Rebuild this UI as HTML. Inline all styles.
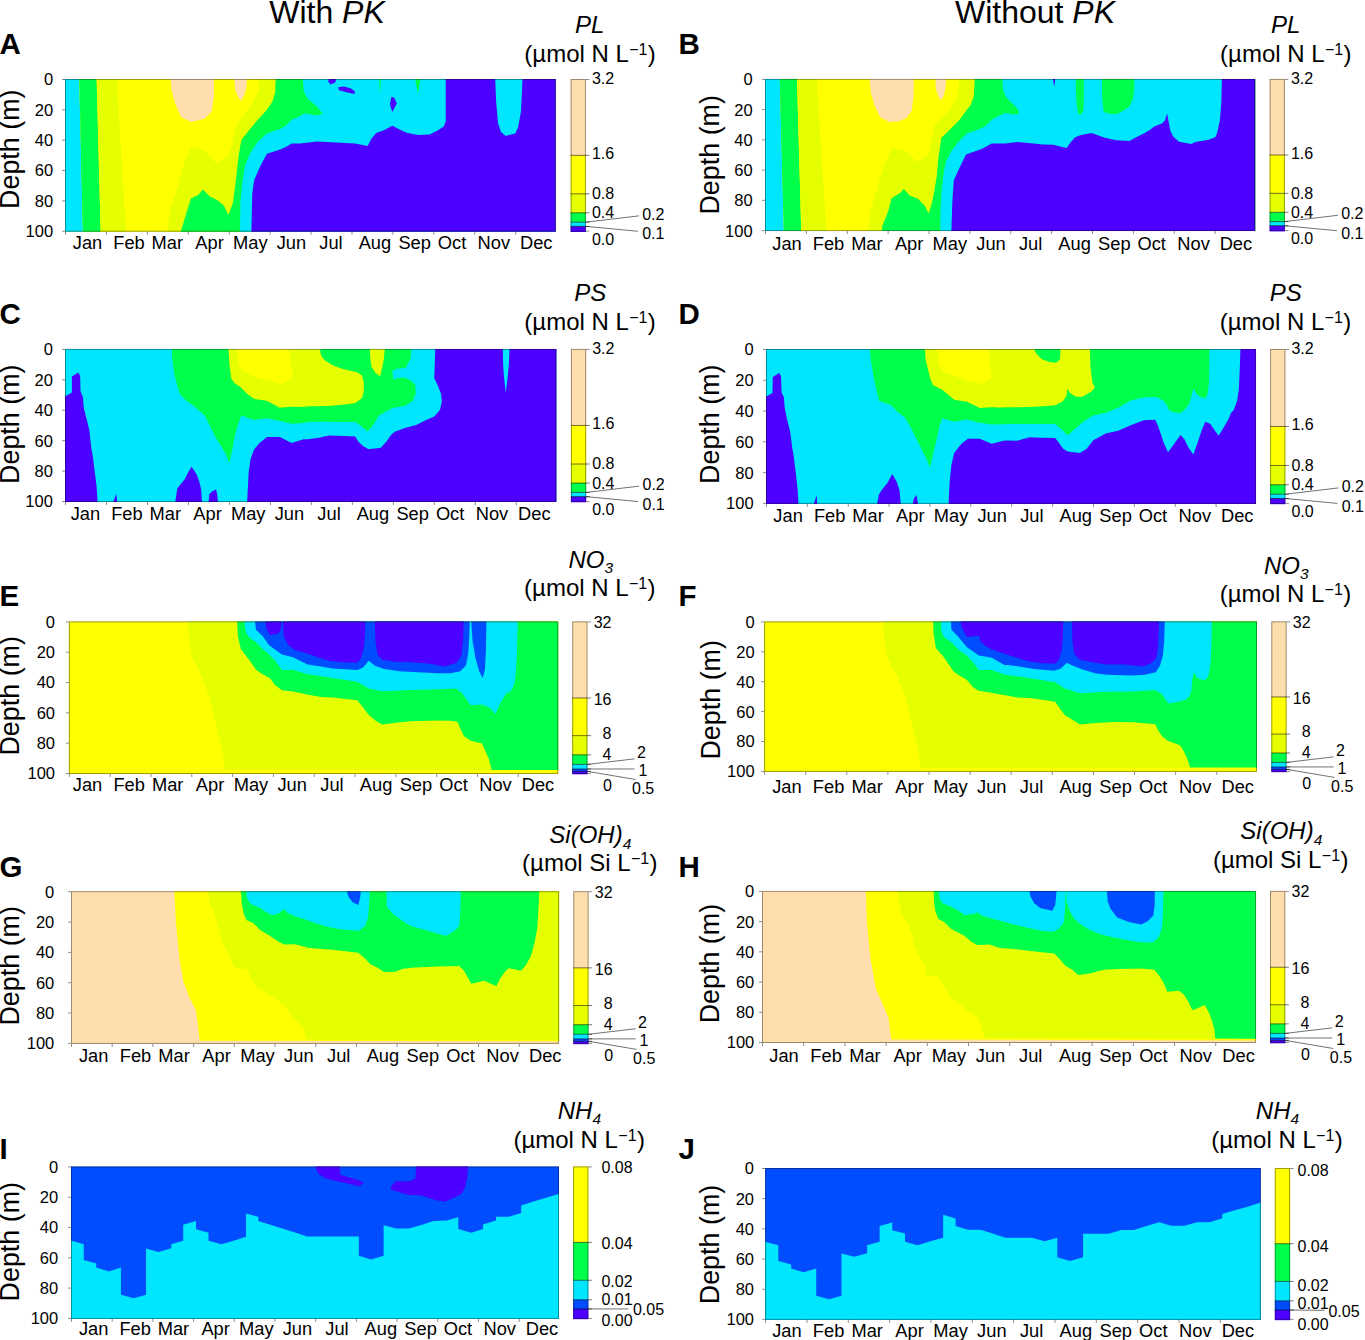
<!DOCTYPE html>
<html><head><meta charset="utf-8"><style>
html,body{margin:0;padding:0;background:#fff;width:1365px;height:1340px;overflow:hidden;}
svg{display:block;font-family:"Liberation Sans", sans-serif;}
</style></head><body>
<svg width="1365" height="1340" viewBox="0 0 1365 1340" font-family="Liberation Sans, sans-serif" fill="#000">
<rect width="1365" height="1340" fill="#fff"/>
<text x="327" y="22.7" font-size="32" text-anchor="middle">With <tspan font-style="italic">PK</tspan></text>
<text x="1035" y="22.7" font-size="32" text-anchor="middle">Without <tspan font-style="italic">PK</tspan></text>
<clipPath id="clipA"><rect x="65" y="79" width="490.8" height="152.7"/></clipPath>
<g clip-path="url(#clipA)">
<polygon fill="#FFFF00" points="60,70 560,70 560,240 60,240"/>
<polygon fill="#00E6FF" points="60,70 79.1,74 83.08,238.84 60,240"/>
<polygon fill="#00FF4A" points="79.1,74 96.5,74 100.86,238.84 83.08,238.84"/>
<polygon fill="#E6FF00" points="96.5,74 116.47,74 126.39,238.84 100.86,238.84"/>
<polygon fill="#FFDEAD" points="170.81,74 170.81,79.13 171.36,88.65 174.47,101.47 180.88,117.04 190.95,121.99 204.69,118.87 211.65,111.55 213.85,97.81 213.85,79.13 213.85,74"/>
<polygon fill="#FFDEAD" points="234.36,74 234.36,79.13 235.46,90.48 238.57,97.81 241.32,101.11 244.62,94.15 246.81,84.99 246.81,79.13 246.81,74"/>
<polygon fill="#E6FF00" points="259.63,74 259.63,79.13 258.72,90.48 252.31,103.3 243.15,116.12 236.74,123.45 233.99,134.44 231.25,147.26 228.5,155.5 216.59,163.19 204.69,150.92 190.95,147.26 184.54,161.91 177.22,187.55 169.89,209.53 167.14,231.14 166.78,238.84 560,240 560,70"/>
<polygon fill="#00FF4A" points="275.75,74 275.75,79.13 275.2,92.32 272.45,101.47 266.04,110.63 257.8,119.79 248.64,130.78 241.32,139.93 238.57,156.42 235.82,180.23 233.08,202.21 228.5,215.03 223.92,205.87 217.51,200.37 210.18,196.71 202.86,189.38 198.28,194.88 190.95,198.54 186.37,213.19 180.88,231.14 179.96,238.84 560,240 560,70"/>
<polygon fill="#00E6FF" points="240.04,238.84 240.04,231.14 240.4,202.21 242.23,183.89 244.98,165.58 250.48,152.75 257.8,141.77 266.96,133.52 279.78,128.95 285.27,126.2 291.68,119.79 298.1,117.04 304.51,113.38 305.71,113.62 316.19,115.52 322.86,114 317.14,106.38 307.62,98.76 303.81,91.14 302.86,79.33 302.86,74 560,70 560,240"/>
<polygon fill="#4C00FF" points="251.39,238.84 251.39,231.14 252.31,193.05 254.14,180.23 260.55,165.58 266.96,153.67 281.61,149.09 287.11,146.34 291.68,143.6 300,143.52 317.14,141.62 355.24,143.52 367.62,146 371.43,138.76 376.19,133.05 383.81,130.19 392.38,125.81 399.05,129.24 406.67,132.67 418.1,134.95 429.52,134.57 437.14,130.76 443.81,126.38 445.71,121.62 445.71,79.33 445.71,74 495.24,74 495.24,79.33 496.19,102.57 498.1,123.52 500.95,132.1 505.71,135.9 515.24,133.43 518.1,127.33 520.95,112.1 521.9,93.05 522.48,79.33 522.48,74 560,70 560,240"/>
<polygon fill="#4C00FF" points="328.57,74 328.57,79.33 328.19,81.62 330.48,84.48 335.24,82.57 336.19,79.33 336.19,74"/>
<polygon fill="#4C00FF" points="338.1,87.33 343.81,86.38 350.48,88.29 354.86,91.14 354.29,94 345.71,92.1 339.05,90.19"/>
<polygon fill="#4C00FF" points="391.43,96.86 394.29,97.81 396.76,103.52 392.38,112.1 389.9,104.48"/>
<polygon fill="#00FF4A" points="379.05,74 379.05,79.33 379.62,89.24 380,94.95 380.38,89.24 380.76,79.33 380.76,74"/>
<polygon fill="#00FF4A" points="415.24,74 415.24,79.33 416.57,87.33 417.71,93.05 419.05,87.33 420.38,79.33 420.38,74"/>
</g>
<rect x="65.5" y="79.5" width="489.8" height="151.7" fill="none" stroke="#000" stroke-opacity="0.38" stroke-width="1"/>
<line x1="62" y1="79.5" x2="65" y2="79.5" stroke="#000" stroke-opacity="0.45" stroke-width="1"/>
<text x="53.1" y="85.4" font-size="16.5" text-anchor="end">0</text>
<line x1="62" y1="109.84" x2="65" y2="109.84" stroke="#000" stroke-opacity="0.45" stroke-width="1"/>
<text x="53.1" y="115.74" font-size="16.5" text-anchor="end">20</text>
<line x1="62" y1="140.18" x2="65" y2="140.18" stroke="#000" stroke-opacity="0.45" stroke-width="1"/>
<text x="53.1" y="146.08" font-size="16.5" text-anchor="end">40</text>
<line x1="62" y1="170.52" x2="65" y2="170.52" stroke="#000" stroke-opacity="0.45" stroke-width="1"/>
<text x="53.1" y="176.42" font-size="16.5" text-anchor="end">60</text>
<line x1="62" y1="200.86" x2="65" y2="200.86" stroke="#000" stroke-opacity="0.45" stroke-width="1"/>
<text x="53.1" y="206.76" font-size="16.5" text-anchor="end">80</text>
<line x1="62" y1="231.2" x2="65" y2="231.2" stroke="#000" stroke-opacity="0.45" stroke-width="1"/>
<text x="53.1" y="237.1" font-size="16.5" text-anchor="end">100</text>
<line x1="65.5" y1="231.7" x2="65.5" y2="234.7" stroke="#000" stroke-opacity="0.45" stroke-width="1"/>
<line x1="106.43" y1="231.7" x2="106.43" y2="234.7" stroke="#000" stroke-opacity="0.45" stroke-width="1"/>
<line x1="147.36" y1="231.7" x2="147.36" y2="234.7" stroke="#000" stroke-opacity="0.45" stroke-width="1"/>
<line x1="188.29" y1="231.7" x2="188.29" y2="234.7" stroke="#000" stroke-opacity="0.45" stroke-width="1"/>
<line x1="229.22" y1="231.7" x2="229.22" y2="234.7" stroke="#000" stroke-opacity="0.45" stroke-width="1"/>
<line x1="270.15" y1="231.7" x2="270.15" y2="234.7" stroke="#000" stroke-opacity="0.45" stroke-width="1"/>
<line x1="311.08" y1="231.7" x2="311.08" y2="234.7" stroke="#000" stroke-opacity="0.45" stroke-width="1"/>
<line x1="352" y1="231.7" x2="352" y2="234.7" stroke="#000" stroke-opacity="0.45" stroke-width="1"/>
<line x1="392.93" y1="231.7" x2="392.93" y2="234.7" stroke="#000" stroke-opacity="0.45" stroke-width="1"/>
<line x1="433.86" y1="231.7" x2="433.86" y2="234.7" stroke="#000" stroke-opacity="0.45" stroke-width="1"/>
<line x1="474.79" y1="231.7" x2="474.79" y2="234.7" stroke="#000" stroke-opacity="0.45" stroke-width="1"/>
<line x1="515.72" y1="231.7" x2="515.72" y2="234.7" stroke="#000" stroke-opacity="0.45" stroke-width="1"/>
<text x="87.5" y="249" font-size="18.3" text-anchor="middle">Jan</text>
<text x="129.02" y="249" font-size="18.3" text-anchor="middle">Feb</text>
<text x="167.34" y="249" font-size="18.3" text-anchor="middle">Mar</text>
<text x="209.55" y="249" font-size="18.3" text-anchor="middle">Apr</text>
<text x="250.27" y="249" font-size="18.3" text-anchor="middle">May</text>
<text x="291.39" y="249" font-size="18.3" text-anchor="middle">Jun</text>
<text x="331.01" y="249" font-size="18.3" text-anchor="middle">Jul</text>
<text x="374.93" y="249" font-size="18.3" text-anchor="middle">Aug</text>
<text x="414.65" y="249" font-size="18.3" text-anchor="middle">Sep</text>
<text x="452.07" y="249" font-size="18.3" text-anchor="middle">Oct</text>
<text x="493.88" y="249" font-size="18.3" text-anchor="middle">Nov</text>
<text x="536.2" y="249" font-size="18.3" text-anchor="middle">Dec</text>
<text x="-0.6" y="54" font-size="29.5" font-weight="bold">A</text>
<text transform="translate(19,149.2) rotate(-90)" font-size="26.9" text-anchor="middle">Depth (m)</text>
<text x="589.7" y="32.7" font-size="24" font-style="italic" text-anchor="middle">PL</text>
<text x="590.1" y="61.8" font-size="24" text-anchor="middle">(µmol N L<tspan font-size="16" dy="-7.2" dx="0.3">−1</tspan><tspan dy="7.2" dx="0.4">)</tspan></text>
<rect x="570.6" y="79" width="15.3" height="76.65" fill="#FFDEAD"/>
<rect x="570.6" y="155.35" width="15.3" height="38.78" fill="#FFFF00"/>
<rect x="570.6" y="193.83" width="15.3" height="19.29" fill="#E6FF00"/>
<rect x="570.6" y="212.81" width="15.3" height="9.64" fill="#00FF4A"/>
<rect x="570.6" y="222.16" width="15.3" height="4.52" fill="#00E6FF"/>
<rect x="570.6" y="226.38" width="15.3" height="5.62" fill="#4C00FF"/>
<line x1="570.6" y1="155.35" x2="589.4" y2="155.35" stroke="#000" stroke-opacity="0.6" stroke-width="0.9"/>
<line x1="570.6" y1="193.83" x2="589.4" y2="193.83" stroke="#000" stroke-opacity="0.6" stroke-width="0.9"/>
<line x1="570.6" y1="212.81" x2="589.4" y2="212.81" stroke="#000" stroke-opacity="0.6" stroke-width="0.9"/>
<line x1="570.6" y1="222.16" x2="589.4" y2="222.16" stroke="#000" stroke-opacity="0.6" stroke-width="0.9"/>
<line x1="570.6" y1="226.38" x2="589.4" y2="226.38" stroke="#000" stroke-opacity="0.6" stroke-width="0.9"/>
<rect x="571.1" y="79.5" width="14.3" height="151.7" fill="none" stroke="#000" stroke-opacity="0.38" stroke-width="1"/>
<line x1="585.9" y1="79.5" x2="589.4" y2="79.5" stroke="#000" stroke-opacity="0.45" stroke-width="1"/>
<line x1="585.9" y1="231.2" x2="589.4" y2="231.2" stroke="#000" stroke-opacity="0.45" stroke-width="1"/>
<text x="591.9" y="84.1" font-size="16" text-anchor="start">3.2</text>
<text x="591.9" y="159.35" font-size="16" text-anchor="start">1.6</text>
<text x="591.9" y="199.03" font-size="16" text-anchor="start">0.8</text>
<text x="591.9" y="218.31" font-size="16" text-anchor="start">0.4</text>
<text x="591.9" y="244.8" font-size="16" text-anchor="start">0.0</text>
<line x1="585.9" y1="222.16" x2="638.9" y2="215.86" stroke="#000" stroke-opacity="0.7" stroke-width="0.8"/>
<text x="642.2" y="220.06" font-size="16" text-anchor="start">0.2</text>
<line x1="585.9" y1="226.38" x2="637.9" y2="231.28" stroke="#000" stroke-opacity="0.7" stroke-width="0.8"/>
<text x="642.2" y="239.38" font-size="16" text-anchor="start">0.1</text>
<clipPath id="clipB"><rect x="765" y="78.9" width="490.2" height="152.2"/></clipPath>
<g clip-path="url(#clipB)">
<polygon fill="#FFFF00" points="760,70 1260,70 1260,240 760,240"/>
<polygon fill="#00E6FF" points="760,70 779.65,74 784.03,238.84 760,240"/>
<polygon fill="#00FF4A" points="779.65,74 796.85,74 801.45,238.84 784.03,238.84"/>
<polygon fill="#E6FF00" points="796.85,74 816.45,74 826.81,238.84 801.45,238.84"/>
<polygon fill="#FFDEAD" points="869.52,74 869.52,79.13 870.81,92.32 874.47,105.14 879.96,117.04 889.12,121.99 899.19,121.25 906.52,117.96 911.65,110.63 913.48,97.81 913.85,79.13 913.85,74"/>
<polygon fill="#FFDEAD" points="935.46,74 935.46,79.13 935.82,88.65 938.57,96.89 941.32,100.56 944.07,95.06 945.9,84.99 945.9,79.13 945.9,74"/>
<polygon fill="#E6FF00" points="959.27,74 959.27,79.13 958.72,90.48 955.05,101.47 949.56,110.63 940.4,117.96 934.91,125.28 932.16,134.44 930.33,147.26 928.5,154.59 916.59,161.91 906.52,150.92 891.87,148.18 885.46,161.91 877.22,187.55 869.89,213.19 868.06,230.59 867.69,238.84 1260,240 1260,70"/>
<polygon fill="#00FF4A" points="974.65,74 974.65,79.13 973.92,95.98 970.62,105.14 966.04,110.63 959.63,119.79 950.48,128.95 941.32,138.1 938.57,156.42 936.74,176.56 933.99,193.05 931.25,205.87 928.5,213.19 924.84,205.87 917.51,198.54 909.82,195.79 903.77,189.02 900.11,193.05 891.5,198.18 888.21,211.36 882.34,226.01 881.79,230.59 881.43,238.84 1260,240 1260,70"/>
<polygon fill="#00E6FF" points="940.4,238.84 940.4,230.59 940.4,213.19 941.32,193.05 943.15,176.56 945.9,161.91 951.39,150.92 957.8,142.68 966.96,133.52 979.78,128.95 985.27,126.2 991.68,119.79 999.01,115.76 1004.51,113.38 1004.76,112.67 1013.33,114.38 1019.05,114 1018.1,109.24 1013.33,104.48 1005.71,96.86 1002.86,89.24 1002.29,79.33 1002.29,74 1260,70 1260,240"/>
<polygon fill="#4C00FF" points="951.39,238.84 951.39,230.59 952.31,202.21 953.77,180.23 959.63,167.41 966.04,154.59 981.61,149.09 991.68,143.6 1000,143.52 1005.71,143.52 1017.14,142 1028.57,142.95 1042.86,144.48 1053.33,144.86 1060.95,146.76 1066.67,147.9 1070.48,142.57 1075.24,137.24 1080.95,134.95 1091.43,133.05 1097.14,134.95 1104.76,137.81 1116.19,140.29 1129.52,141.05 1135.24,137.81 1144.76,133.05 1150.48,129.62 1154.29,126.38 1161.9,123.52 1164.76,120.67 1167.24,113.62 1168.57,121.62 1170.48,131.14 1173.33,136.86 1179.05,141.81 1191.43,143.9 1195.24,142 1201.9,141.05 1208.57,139.71 1215.24,137.24 1217.14,133.05 1220,119.71 1221.33,102.57 1221.9,79.33 1221.9,74 1260,70 1260,240"/>
<polygon fill="#4C00FF" points="1052.95,74 1052.95,79.33 1053.33,81.62 1054.29,86.38 1055.24,79.33 1055.24,74"/>
<polygon fill="#00FF4A" points="1075.81,74 1075.81,79.33 1075.81,89.24 1076.57,102.57 1078.1,114 1080.95,114.95 1083.43,110.19 1083.81,96.86 1083.81,79.33 1083.81,74"/>
<polygon fill="#00FF4A" points="1101.9,74 1101.9,79.33 1101.9,89.24 1102.48,102.57 1103.81,112.1 1110.48,114 1117.14,114 1123.81,110.19 1129.52,106.38 1132.95,98.76 1134.29,89.24 1134.29,79.33 1134.29,74"/>
</g>
<rect x="765.5" y="79.4" width="489.2" height="151.2" fill="none" stroke="#000" stroke-opacity="0.38" stroke-width="1"/>
<line x1="762" y1="79.4" x2="765" y2="79.4" stroke="#000" stroke-opacity="0.45" stroke-width="1"/>
<text x="752.6" y="85.3" font-size="16.5" text-anchor="end">0</text>
<line x1="762" y1="109.64" x2="765" y2="109.64" stroke="#000" stroke-opacity="0.45" stroke-width="1"/>
<text x="752.6" y="115.54" font-size="16.5" text-anchor="end">20</text>
<line x1="762" y1="139.88" x2="765" y2="139.88" stroke="#000" stroke-opacity="0.45" stroke-width="1"/>
<text x="752.6" y="145.78" font-size="16.5" text-anchor="end">40</text>
<line x1="762" y1="170.12" x2="765" y2="170.12" stroke="#000" stroke-opacity="0.45" stroke-width="1"/>
<text x="752.6" y="176.02" font-size="16.5" text-anchor="end">60</text>
<line x1="762" y1="200.36" x2="765" y2="200.36" stroke="#000" stroke-opacity="0.45" stroke-width="1"/>
<text x="752.6" y="206.26" font-size="16.5" text-anchor="end">80</text>
<line x1="762" y1="230.6" x2="765" y2="230.6" stroke="#000" stroke-opacity="0.45" stroke-width="1"/>
<text x="752.6" y="236.5" font-size="16.5" text-anchor="end">100</text>
<line x1="765.5" y1="231.1" x2="765.5" y2="234.1" stroke="#000" stroke-opacity="0.45" stroke-width="1"/>
<line x1="806.38" y1="231.1" x2="806.38" y2="234.1" stroke="#000" stroke-opacity="0.45" stroke-width="1"/>
<line x1="847.26" y1="231.1" x2="847.26" y2="234.1" stroke="#000" stroke-opacity="0.45" stroke-width="1"/>
<line x1="888.14" y1="231.1" x2="888.14" y2="234.1" stroke="#000" stroke-opacity="0.45" stroke-width="1"/>
<line x1="929.02" y1="231.1" x2="929.02" y2="234.1" stroke="#000" stroke-opacity="0.45" stroke-width="1"/>
<line x1="969.9" y1="231.1" x2="969.9" y2="234.1" stroke="#000" stroke-opacity="0.45" stroke-width="1"/>
<line x1="1010.77" y1="231.1" x2="1010.77" y2="234.1" stroke="#000" stroke-opacity="0.45" stroke-width="1"/>
<line x1="1051.65" y1="231.1" x2="1051.65" y2="234.1" stroke="#000" stroke-opacity="0.45" stroke-width="1"/>
<line x1="1092.53" y1="231.1" x2="1092.53" y2="234.1" stroke="#000" stroke-opacity="0.45" stroke-width="1"/>
<line x1="1133.41" y1="231.1" x2="1133.41" y2="234.1" stroke="#000" stroke-opacity="0.45" stroke-width="1"/>
<line x1="1174.29" y1="231.1" x2="1174.29" y2="234.1" stroke="#000" stroke-opacity="0.45" stroke-width="1"/>
<line x1="1215.17" y1="231.1" x2="1215.17" y2="234.1" stroke="#000" stroke-opacity="0.45" stroke-width="1"/>
<text x="787" y="249.6" font-size="18.3" text-anchor="middle">Jan</text>
<text x="828.53" y="249.6" font-size="18.3" text-anchor="middle">Feb</text>
<text x="866.87" y="249.6" font-size="18.3" text-anchor="middle">Mar</text>
<text x="909.11" y="249.6" font-size="18.3" text-anchor="middle">Apr</text>
<text x="949.84" y="249.6" font-size="18.3" text-anchor="middle">May</text>
<text x="990.98" y="249.6" font-size="18.3" text-anchor="middle">Jun</text>
<text x="1030.62" y="249.6" font-size="18.3" text-anchor="middle">Jul</text>
<text x="1074.55" y="249.6" font-size="18.3" text-anchor="middle">Aug</text>
<text x="1114.29" y="249.6" font-size="18.3" text-anchor="middle">Sep</text>
<text x="1151.73" y="249.6" font-size="18.3" text-anchor="middle">Oct</text>
<text x="1193.57" y="249.6" font-size="18.3" text-anchor="middle">Nov</text>
<text x="1235.9" y="249.6" font-size="18.3" text-anchor="middle">Dec</text>
<text x="678.6" y="54" font-size="29.5" font-weight="bold">B</text>
<text transform="translate(719.1,154.8) rotate(-90)" font-size="26.9" text-anchor="middle">Depth (m)</text>
<text x="1285.8" y="32.7" font-size="24" font-style="italic" text-anchor="middle">PL</text>
<text x="1285.8" y="61.8" font-size="24" text-anchor="middle">(µmol N L<tspan font-size="16" dy="-7.2" dx="0.3">−1</tspan><tspan dy="7.2" dx="0.4">)</tspan></text>
<rect x="1269.6" y="78.9" width="15.3" height="76.4" fill="#FFDEAD"/>
<rect x="1269.6" y="155" width="15.3" height="38.65" fill="#FFFF00"/>
<rect x="1269.6" y="193.35" width="15.3" height="19.22" fill="#E6FF00"/>
<rect x="1269.6" y="212.28" width="15.3" height="9.61" fill="#00FF4A"/>
<rect x="1269.6" y="221.59" width="15.3" height="4.51" fill="#00E6FF"/>
<rect x="1269.6" y="225.79" width="15.3" height="5.61" fill="#4C00FF"/>
<line x1="1269.6" y1="155" x2="1288.4" y2="155" stroke="#000" stroke-opacity="0.6" stroke-width="0.9"/>
<line x1="1269.6" y1="193.35" x2="1288.4" y2="193.35" stroke="#000" stroke-opacity="0.6" stroke-width="0.9"/>
<line x1="1269.6" y1="212.28" x2="1288.4" y2="212.28" stroke="#000" stroke-opacity="0.6" stroke-width="0.9"/>
<line x1="1269.6" y1="221.59" x2="1288.4" y2="221.59" stroke="#000" stroke-opacity="0.6" stroke-width="0.9"/>
<line x1="1269.6" y1="225.79" x2="1288.4" y2="225.79" stroke="#000" stroke-opacity="0.6" stroke-width="0.9"/>
<rect x="1270.1" y="79.4" width="14.3" height="151.2" fill="none" stroke="#000" stroke-opacity="0.38" stroke-width="1"/>
<line x1="1284.9" y1="79.4" x2="1288.4" y2="79.4" stroke="#000" stroke-opacity="0.45" stroke-width="1"/>
<line x1="1284.9" y1="230.6" x2="1288.4" y2="230.6" stroke="#000" stroke-opacity="0.45" stroke-width="1"/>
<text x="1290.9" y="84" font-size="16" text-anchor="start">3.2</text>
<text x="1290.9" y="159" font-size="16" text-anchor="start">1.6</text>
<text x="1290.9" y="198.55" font-size="16" text-anchor="start">0.8</text>
<text x="1290.9" y="217.78" font-size="16" text-anchor="start">0.4</text>
<text x="1290.9" y="244.2" font-size="16" text-anchor="start">0.0</text>
<line x1="1284.9" y1="221.59" x2="1337.9" y2="215.29" stroke="#000" stroke-opacity="0.7" stroke-width="0.8"/>
<text x="1341.2" y="219.49" font-size="16" text-anchor="start">0.2</text>
<line x1="1284.9" y1="225.79" x2="1336.9" y2="230.69" stroke="#000" stroke-opacity="0.7" stroke-width="0.8"/>
<text x="1341.2" y="238.79" font-size="16" text-anchor="start">0.1</text>
<clipPath id="clipC"><rect x="65" y="348.9" width="491.4" height="153.1"/></clipPath>
<g clip-path="url(#clipC)">
<polygon fill="#00E6FF" points="60,340 565,340 565,510 60,510"/>
<polygon fill="#4C00FF" points="60,396.2 65.49,396.2 71.9,392.53 71.9,376.6 78.32,372.39 80.15,376.05 80.51,391.62 82.89,397.11 83.81,408.1 86.56,419.09 89.3,430.08 91.14,446.56 92.97,457.55 94.8,472.21 96.63,486.86 97.55,501.14 97.73,508.84 60,508.84"/>
<polygon fill="#4C00FF" points="113.11,508.84 113.48,501.14 114.95,497.85 115.86,493.82 116.78,497.85 117.14,501.14 117.33,508.84"/>
<polygon fill="#4C00FF" points="175.02,508.84 175.38,501.14 177.22,488.69 179.96,485.03 184.54,479.53 188.21,472.21 191.5,466.71 196.45,474.04 199.19,481.36 201.03,488.69 201.94,501.14 202.12,508.84"/>
<polygon fill="#4C00FF" points="208.53,508.84 208.72,501.14 209.27,494.18 212.01,491.44 216.04,489.6 217.14,494.18 217.88,501.14 218.06,508.84"/>
<polygon fill="#00FF4A" points="171.72,344 171.72,349.13 172.09,358.65 174.47,375.14 177.22,386.12 179.96,394.37 186.37,400.78 191.87,404.44 199.19,410.85 204.69,415.43 210.18,426.42 215.68,437.41 221.17,446.56 225.75,453.89 229.41,463.05 232.16,450.23 234.91,435.58 238.57,422.75 241.32,415.43 248.64,418.18 254.14,420.01 266.96,418.18 279.78,420.92 291.68,423.67 310,422.75 300,422.1 319.05,421.71 355.24,422.1 360.95,425.9 367.62,431.62 372.38,425.9 379.05,415.43 385.71,411.62 393.33,407.81 404.76,405.9 412.38,401.14 415.81,393.52 415.24,384.95 410.48,380.19 403.81,377.33 393.33,379.24 392.38,370.67 397.14,368.76 405.71,367.81 410.48,359.24 411.43,349.33 411.43,344"/>
<polygon fill="#E6FF00" points="228.5,344 228.5,349.13 229.41,364.15 231.25,378.8 234.91,383.38 240.4,387.04 246.81,393.45 254.14,398.95 266.96,400.78 279.78,407.74 291.68,406.64 310,407.19 300,406.48 328.57,405.9 345.71,404.57 355.24,403.05 361.9,398.29 363.81,391.62 363.81,382.1 361.9,375.43 357.14,372.19 341.9,368.76 332.38,364.95 324.76,360.19 320.95,355.43 320,349.33 320,344"/>
<polygon fill="#FFFF00" points="237.66,344 237.66,349.13 238.57,364.15 243.15,371.47 252.31,376.05 261.47,378.8 279.78,383.93 290.77,379.71 292.97,374.22 291.14,364.15 288.94,349.13 288.94,344"/>
<polygon fill="#E6FF00" points="370.1,344 370.1,349.33 370.1,355.43 371.43,366.86 375.24,372.57 380,376.38 381.9,368.76 383.81,359.24 384.76,349.33 384.76,344"/>
<polygon fill="#4C00FF" points="247.18,508.84 247.18,501.14 248.64,472.21 250.48,459.38 254.14,449.31 259.63,442.9 266.96,437.04 279.78,437.04 291.68,442.9 303.59,439.24 310,439.24 300,440.19 311.43,438.86 319.05,437.71 328.57,435.43 343.81,436 355.24,436.38 358.1,441.14 362.86,445.9 368.57,449.14 380.95,447.81 386.67,441.14 391.43,434.48 395.24,431.62 405.71,427.81 416.19,424.95 425.71,420.19 434.29,416.38 440,409.71 441.9,401.14 440.95,393.52 437.14,384 434.29,378.29 435.24,349.33 435.24,344 565,340 565,510"/>
<polygon fill="#00E6FF" points="502.86,344 502.86,349.33 503.05,363.05 503.81,374.48 504.76,384 505.71,392.57 506.86,384 508,374.48 508.95,363.05 509.52,349.33 509.52,344"/>
</g>
<rect x="65.5" y="349.4" width="490.4" height="152.1" fill="none" stroke="#000" stroke-opacity="0.38" stroke-width="1"/>
<line x1="62" y1="349.4" x2="65" y2="349.4" stroke="#000" stroke-opacity="0.45" stroke-width="1"/>
<text x="52.9" y="355.3" font-size="16.5" text-anchor="end">0</text>
<line x1="62" y1="379.82" x2="65" y2="379.82" stroke="#000" stroke-opacity="0.45" stroke-width="1"/>
<text x="52.9" y="385.72" font-size="16.5" text-anchor="end">20</text>
<line x1="62" y1="410.24" x2="65" y2="410.24" stroke="#000" stroke-opacity="0.45" stroke-width="1"/>
<text x="52.9" y="416.14" font-size="16.5" text-anchor="end">40</text>
<line x1="62" y1="440.66" x2="65" y2="440.66" stroke="#000" stroke-opacity="0.45" stroke-width="1"/>
<text x="52.9" y="446.56" font-size="16.5" text-anchor="end">60</text>
<line x1="62" y1="471.08" x2="65" y2="471.08" stroke="#000" stroke-opacity="0.45" stroke-width="1"/>
<text x="52.9" y="476.98" font-size="16.5" text-anchor="end">80</text>
<line x1="62" y1="501.5" x2="65" y2="501.5" stroke="#000" stroke-opacity="0.45" stroke-width="1"/>
<text x="52.9" y="507.4" font-size="16.5" text-anchor="end">100</text>
<line x1="65.5" y1="502" x2="65.5" y2="505" stroke="#000" stroke-opacity="0.45" stroke-width="1"/>
<line x1="106.48" y1="502" x2="106.48" y2="505" stroke="#000" stroke-opacity="0.45" stroke-width="1"/>
<line x1="147.46" y1="502" x2="147.46" y2="505" stroke="#000" stroke-opacity="0.45" stroke-width="1"/>
<line x1="188.44" y1="502" x2="188.44" y2="505" stroke="#000" stroke-opacity="0.45" stroke-width="1"/>
<line x1="229.42" y1="502" x2="229.42" y2="505" stroke="#000" stroke-opacity="0.45" stroke-width="1"/>
<line x1="270.4" y1="502" x2="270.4" y2="505" stroke="#000" stroke-opacity="0.45" stroke-width="1"/>
<line x1="311.38" y1="502" x2="311.38" y2="505" stroke="#000" stroke-opacity="0.45" stroke-width="1"/>
<line x1="352.36" y1="502" x2="352.36" y2="505" stroke="#000" stroke-opacity="0.45" stroke-width="1"/>
<line x1="393.33" y1="502" x2="393.33" y2="505" stroke="#000" stroke-opacity="0.45" stroke-width="1"/>
<line x1="434.31" y1="502" x2="434.31" y2="505" stroke="#000" stroke-opacity="0.45" stroke-width="1"/>
<line x1="475.29" y1="502" x2="475.29" y2="505" stroke="#000" stroke-opacity="0.45" stroke-width="1"/>
<line x1="516.27" y1="502" x2="516.27" y2="505" stroke="#000" stroke-opacity="0.45" stroke-width="1"/>
<text x="85.4" y="519.9" font-size="18.3" text-anchor="middle">Jan</text>
<text x="126.93" y="519.9" font-size="18.3" text-anchor="middle">Feb</text>
<text x="165.27" y="519.9" font-size="18.3" text-anchor="middle">Mar</text>
<text x="207.51" y="519.9" font-size="18.3" text-anchor="middle">Apr</text>
<text x="248.24" y="519.9" font-size="18.3" text-anchor="middle">May</text>
<text x="289.38" y="519.9" font-size="18.3" text-anchor="middle">Jun</text>
<text x="329.02" y="519.9" font-size="18.3" text-anchor="middle">Jul</text>
<text x="372.95" y="519.9" font-size="18.3" text-anchor="middle">Aug</text>
<text x="412.69" y="519.9" font-size="18.3" text-anchor="middle">Sep</text>
<text x="450.13" y="519.9" font-size="18.3" text-anchor="middle">Oct</text>
<text x="491.97" y="519.9" font-size="18.3" text-anchor="middle">Nov</text>
<text x="534.3" y="519.9" font-size="18.3" text-anchor="middle">Dec</text>
<text x="-0.6" y="324" font-size="29.5" font-weight="bold">C</text>
<text transform="translate(19,424.2) rotate(-90)" font-size="26.9" text-anchor="middle">Depth (m)</text>
<text x="590.3" y="301.2" font-size="24" font-style="italic" text-anchor="middle">PS</text>
<text x="590.1" y="330" font-size="24" text-anchor="middle">(µmol N L<tspan font-size="16" dy="-7.2" dx="0.3">−1</tspan><tspan dy="7.2" dx="0.4">)</tspan></text>
<rect x="570.9" y="348.9" width="15.3" height="76.85" fill="#FFDEAD"/>
<rect x="570.9" y="425.45" width="15.3" height="38.88" fill="#FFFF00"/>
<rect x="570.9" y="464.03" width="15.3" height="19.34" fill="#E6FF00"/>
<rect x="570.9" y="483.06" width="15.3" height="9.67" fill="#00FF4A"/>
<rect x="570.9" y="492.43" width="15.3" height="4.53" fill="#00E6FF"/>
<rect x="570.9" y="496.66" width="15.3" height="5.64" fill="#4C00FF"/>
<line x1="570.9" y1="425.45" x2="589.7" y2="425.45" stroke="#000" stroke-opacity="0.6" stroke-width="0.9"/>
<line x1="570.9" y1="464.03" x2="589.7" y2="464.03" stroke="#000" stroke-opacity="0.6" stroke-width="0.9"/>
<line x1="570.9" y1="483.06" x2="589.7" y2="483.06" stroke="#000" stroke-opacity="0.6" stroke-width="0.9"/>
<line x1="570.9" y1="492.43" x2="589.7" y2="492.43" stroke="#000" stroke-opacity="0.6" stroke-width="0.9"/>
<line x1="570.9" y1="496.66" x2="589.7" y2="496.66" stroke="#000" stroke-opacity="0.6" stroke-width="0.9"/>
<rect x="571.4" y="349.4" width="14.3" height="152.1" fill="none" stroke="#000" stroke-opacity="0.38" stroke-width="1"/>
<line x1="586.2" y1="349.4" x2="589.7" y2="349.4" stroke="#000" stroke-opacity="0.45" stroke-width="1"/>
<line x1="586.2" y1="501.5" x2="589.7" y2="501.5" stroke="#000" stroke-opacity="0.45" stroke-width="1"/>
<text x="592.2" y="354" font-size="16" text-anchor="start">3.2</text>
<text x="592.2" y="429.45" font-size="16" text-anchor="start">1.6</text>
<text x="592.2" y="469.23" font-size="16" text-anchor="start">0.8</text>
<text x="592.2" y="488.56" font-size="16" text-anchor="start">0.4</text>
<text x="592.2" y="515.1" font-size="16" text-anchor="start">0.0</text>
<line x1="586.2" y1="492.43" x2="639.2" y2="486.13" stroke="#000" stroke-opacity="0.7" stroke-width="0.8"/>
<text x="642.5" y="490.33" font-size="16" text-anchor="start">0.2</text>
<line x1="586.2" y1="496.66" x2="638.2" y2="501.56" stroke="#000" stroke-opacity="0.7" stroke-width="0.8"/>
<text x="642.5" y="509.66" font-size="16" text-anchor="start">0.1</text>
<clipPath id="clipD"><rect x="766" y="349" width="490.1" height="154.9"/></clipPath>
<g clip-path="url(#clipD)">
<polygon fill="#00E6FF" points="760,340 1265,340 1265,510 760,510"/>
<polygon fill="#4C00FF" points="760,396.2 766.78,396.2 772.45,393.08 772.82,376.97 779.23,372.94 781.06,376.6 781.61,392.53 783.81,397.11 784.73,408.1 787.47,420.92 790.22,431.91 792.05,446.56 793.88,457.55 795.71,472.21 797.55,488.69 798.46,502.97 798.64,512.5 760,512.5"/>
<polygon fill="#4C00FF" points="813.66,512.5 814.03,502.97 815.86,497.85 816.78,495.1 817.14,502.97 817.33,512.5"/>
<polygon fill="#4C00FF" points="876.85,512.5 877.22,502.97 879.05,494.18 882.71,488.69 887.29,483.19 892.23,474.04 896.45,481.36 899.56,490.52 900.66,502.97 900.84,512.5"/>
<polygon fill="#4C00FF" points="912.56,512.5 912.93,502.97 913.85,498.76 916.59,495.1 917.88,502.97 918.06,512.5"/>
<polygon fill="#00FF4A" points="869.89,344 869.89,349.13 870.81,360.48 873.55,376.97 876.3,389.79 879.05,400.78 890.95,405.36 897.36,411.77 904.69,417.26 910.18,426.42 915.68,437.41 923,452.06 926.67,459.38 929.96,467.63 933.08,453.89 936.74,439.24 939.49,426.42 942.23,418.18 947.73,420.01 954.14,421.84 966.96,419.46 979.78,422.75 991.68,424.59 1010,424.22 1000,424 1055.24,424 1060.95,428.76 1067.62,435.43 1076.19,427.81 1083.81,421.14 1093.33,415.43 1106.67,412.57 1118.1,407.81 1131.43,400.19 1144.76,397.33 1156.19,396.95 1162.86,400.19 1166.67,404.57 1168.57,409.71 1174.29,412.57 1180.57,412.95 1185.71,408.76 1189.52,403.05 1193.33,388.76 1197.14,394.48 1200.95,397.33 1205.71,398.29 1207.62,393.52 1209.14,382.1 1209.52,349.33 1209.52,344"/>
<polygon fill="#E6FF00" points="924.84,344 924.84,349.13 925.75,360.48 928.5,371.47 930.33,378.8 933.08,385.21 942.23,389.79 946.81,393.45 954.14,399.86 966.96,401.69 979.78,408.1 991.68,407.19 1010,408.1 1000,407.24 1019.05,407.24 1034.29,406.86 1047.62,405.9 1055.24,405.33 1062.86,401.14 1066.67,395.43 1067.05,388.76 1069.52,392.57 1075.24,396.38 1081.9,396.95 1091.43,391.62 1094.86,387.81 1092.38,382.1 1090.48,366.86 1089.9,349.33 1089.9,344"/>
<polygon fill="#00FF4A" points="1034.29,344 1034.29,349.33 1036.19,353.52 1041.9,359.24 1049.52,362.1 1056.19,362.67 1060,359.24 1060.57,349.33 1060.57,344"/>
<polygon fill="#FFFF00" points="937.29,344 937.29,349.13 938.57,364.15 943.15,371.47 954.14,376.05 965.13,379.71 979.78,383.93 989.85,379.71 991.68,373.3 989.85,364.15 988.94,349.13 988.94,344"/>
<polygon fill="#4C00FF" points="948.64,512.5 948.64,502.97 949.56,483.19 951.39,464.88 954.14,452.97 961.47,443.82 967.88,438.87 979.78,438.87 991.68,443.82 1003.59,440.7 1010,440.7 1000,441.52 1005.71,440.57 1017.14,440.76 1029.52,437.33 1041.9,437.71 1055.24,437.9 1059.05,443.05 1062.86,448.38 1067.62,451.62 1080,452.95 1086.67,448.76 1093.33,440.19 1105.71,433.52 1118.1,430.67 1131.43,424.95 1143.81,420.19 1155.24,419.81 1158.1,425.9 1163.81,443.05 1168,452.19 1173.33,444.95 1180.57,435.05 1184.38,439.24 1188.57,447.81 1193.33,454.48 1198.1,441.14 1201.9,429.71 1205.33,421.71 1210.48,424 1214.29,429.71 1218.67,435.81 1223.81,427.24 1228.57,419.05 1230.86,413.33 1233.71,409.9 1237.14,400.76 1238.86,389.14 1239.62,372.57 1240,363.05 1240.38,349.33 1240.38,344 1265,340 1265,510"/>
</g>
<rect x="766.5" y="349.5" width="489.1" height="153.9" fill="none" stroke="#000" stroke-opacity="0.38" stroke-width="1"/>
<line x1="763" y1="349.5" x2="766" y2="349.5" stroke="#000" stroke-opacity="0.45" stroke-width="1"/>
<text x="753.6" y="355.4" font-size="16.5" text-anchor="end">0</text>
<line x1="763" y1="380.28" x2="766" y2="380.28" stroke="#000" stroke-opacity="0.45" stroke-width="1"/>
<text x="753.6" y="386.18" font-size="16.5" text-anchor="end">20</text>
<line x1="763" y1="411.06" x2="766" y2="411.06" stroke="#000" stroke-opacity="0.45" stroke-width="1"/>
<text x="753.6" y="416.96" font-size="16.5" text-anchor="end">40</text>
<line x1="763" y1="441.84" x2="766" y2="441.84" stroke="#000" stroke-opacity="0.45" stroke-width="1"/>
<text x="753.6" y="447.74" font-size="16.5" text-anchor="end">60</text>
<line x1="763" y1="472.62" x2="766" y2="472.62" stroke="#000" stroke-opacity="0.45" stroke-width="1"/>
<text x="753.6" y="478.52" font-size="16.5" text-anchor="end">80</text>
<line x1="763" y1="503.4" x2="766" y2="503.4" stroke="#000" stroke-opacity="0.45" stroke-width="1"/>
<text x="753.6" y="509.3" font-size="16.5" text-anchor="end">100</text>
<line x1="766.5" y1="503.9" x2="766.5" y2="506.9" stroke="#000" stroke-opacity="0.45" stroke-width="1"/>
<line x1="807.37" y1="503.9" x2="807.37" y2="506.9" stroke="#000" stroke-opacity="0.45" stroke-width="1"/>
<line x1="848.24" y1="503.9" x2="848.24" y2="506.9" stroke="#000" stroke-opacity="0.45" stroke-width="1"/>
<line x1="889.11" y1="503.9" x2="889.11" y2="506.9" stroke="#000" stroke-opacity="0.45" stroke-width="1"/>
<line x1="929.98" y1="503.9" x2="929.98" y2="506.9" stroke="#000" stroke-opacity="0.45" stroke-width="1"/>
<line x1="970.85" y1="503.9" x2="970.85" y2="506.9" stroke="#000" stroke-opacity="0.45" stroke-width="1"/>
<line x1="1011.72" y1="503.9" x2="1011.72" y2="506.9" stroke="#000" stroke-opacity="0.45" stroke-width="1"/>
<line x1="1052.6" y1="503.9" x2="1052.6" y2="506.9" stroke="#000" stroke-opacity="0.45" stroke-width="1"/>
<line x1="1093.47" y1="503.9" x2="1093.47" y2="506.9" stroke="#000" stroke-opacity="0.45" stroke-width="1"/>
<line x1="1134.34" y1="503.9" x2="1134.34" y2="506.9" stroke="#000" stroke-opacity="0.45" stroke-width="1"/>
<line x1="1175.21" y1="503.9" x2="1175.21" y2="506.9" stroke="#000" stroke-opacity="0.45" stroke-width="1"/>
<line x1="1216.08" y1="503.9" x2="1216.08" y2="506.9" stroke="#000" stroke-opacity="0.45" stroke-width="1"/>
<text x="788.1" y="521.8" font-size="18.3" text-anchor="middle">Jan</text>
<text x="829.65" y="521.8" font-size="18.3" text-anchor="middle">Feb</text>
<text x="868.01" y="521.8" font-size="18.3" text-anchor="middle">Mar</text>
<text x="910.26" y="521.8" font-size="18.3" text-anchor="middle">Apr</text>
<text x="951.02" y="521.8" font-size="18.3" text-anchor="middle">May</text>
<text x="992.17" y="521.8" font-size="18.3" text-anchor="middle">Jun</text>
<text x="1031.83" y="521.8" font-size="18.3" text-anchor="middle">Jul</text>
<text x="1075.78" y="521.8" font-size="18.3" text-anchor="middle">Aug</text>
<text x="1115.54" y="521.8" font-size="18.3" text-anchor="middle">Sep</text>
<text x="1152.99" y="521.8" font-size="18.3" text-anchor="middle">Oct</text>
<text x="1194.85" y="521.8" font-size="18.3" text-anchor="middle">Nov</text>
<text x="1237.2" y="521.8" font-size="18.3" text-anchor="middle">Dec</text>
<text x="678.6" y="324" font-size="29.5" font-weight="bold">D</text>
<text transform="translate(719.1,424.2) rotate(-90)" font-size="26.9" text-anchor="middle">Depth (m)</text>
<text x="1285.7" y="301.2" font-size="24" font-style="italic" text-anchor="middle">PS</text>
<text x="1285.5" y="330" font-size="24" text-anchor="middle">(µmol N L<tspan font-size="16" dy="-7.2" dx="0.3">−1</tspan><tspan dy="7.2" dx="0.4">)</tspan></text>
<rect x="1270.1" y="349" width="15.3" height="77.75" fill="#FFDEAD"/>
<rect x="1270.1" y="426.45" width="15.3" height="39.33" fill="#FFFF00"/>
<rect x="1270.1" y="465.48" width="15.3" height="19.56" fill="#E6FF00"/>
<rect x="1270.1" y="484.74" width="15.3" height="9.78" fill="#00FF4A"/>
<rect x="1270.1" y="494.22" width="15.3" height="4.58" fill="#00E6FF"/>
<rect x="1270.1" y="498.5" width="15.3" height="5.7" fill="#4C00FF"/>
<line x1="1270.1" y1="426.45" x2="1288.9" y2="426.45" stroke="#000" stroke-opacity="0.6" stroke-width="0.9"/>
<line x1="1270.1" y1="465.48" x2="1288.9" y2="465.48" stroke="#000" stroke-opacity="0.6" stroke-width="0.9"/>
<line x1="1270.1" y1="484.74" x2="1288.9" y2="484.74" stroke="#000" stroke-opacity="0.6" stroke-width="0.9"/>
<line x1="1270.1" y1="494.22" x2="1288.9" y2="494.22" stroke="#000" stroke-opacity="0.6" stroke-width="0.9"/>
<line x1="1270.1" y1="498.5" x2="1288.9" y2="498.5" stroke="#000" stroke-opacity="0.6" stroke-width="0.9"/>
<rect x="1270.6" y="349.5" width="14.3" height="153.9" fill="none" stroke="#000" stroke-opacity="0.38" stroke-width="1"/>
<line x1="1285.4" y1="349.5" x2="1288.9" y2="349.5" stroke="#000" stroke-opacity="0.45" stroke-width="1"/>
<line x1="1285.4" y1="503.4" x2="1288.9" y2="503.4" stroke="#000" stroke-opacity="0.45" stroke-width="1"/>
<text x="1291.4" y="354.1" font-size="16" text-anchor="start">3.2</text>
<text x="1291.4" y="430.45" font-size="16" text-anchor="start">1.6</text>
<text x="1291.4" y="470.68" font-size="16" text-anchor="start">0.8</text>
<text x="1291.4" y="490.24" font-size="16" text-anchor="start">0.4</text>
<text x="1291.4" y="517" font-size="16" text-anchor="start">0.0</text>
<line x1="1285.4" y1="494.22" x2="1338.4" y2="487.92" stroke="#000" stroke-opacity="0.7" stroke-width="0.8"/>
<text x="1341.7" y="492.12" font-size="16" text-anchor="start">0.2</text>
<line x1="1285.4" y1="498.5" x2="1337.4" y2="503.4" stroke="#000" stroke-opacity="0.7" stroke-width="0.8"/>
<text x="1341.7" y="511.5" font-size="16" text-anchor="start">0.1</text>
<clipPath id="clipE"><rect x="68.9" y="621.4" width="489.3" height="152.6"/></clipPath>
<g clip-path="url(#clipE)">
<polygon fill="#FFFF00" points="60,610 565,610 565,780 60,780"/>
<polygon fill="#E6FF00" points="188.18,616 188.18,621.13 188.54,634.32 190.37,648.97 193.12,659.96 197.7,668.2 203.19,680.1 208.69,694.75 212.35,709.41 216.01,725.89 219.68,740.54 223.34,755.19 225.17,769.85 565,770 565,610"/>
<polygon fill="#00FF4A" points="237.08,616 237.08,621.13 237.99,636.15 240.74,648.97 247.15,657.21 256.31,670.03 261.8,673.69 270.04,678.27 274.62,684.68 281.95,690.18 292.94,691.46 307.59,694.39 314,695.12 304,694.1 321.14,696.95 332.57,697.52 357.33,700.19 363.05,707.43 368.76,715.05 375.43,720.38 382.1,724.57 395.43,722.67 410.67,721.14 437.33,720.38 450.67,720.76 457.33,721.71 460.19,728.38 464,736 470.67,740.76 482.1,743.62 484.95,750.29 488.76,758.86 491.62,769.9 565,770 565,610"/>
<polygon fill="#00E6FF" points="244.4,616 244.4,621.13 245.87,632.48 248.98,637.06 255.39,641.64 262.72,648.97 269.13,654.46 274.62,659.96 281.95,670.03 292.94,669.66 307.59,674.24 314,674.97 304,673.14 313.52,675.05 332.57,677.9 357.33,681.71 368.76,688.38 382.1,691.24 395.43,690.67 410.67,689.9 437.33,689.33 456.38,688.38 462.1,693.14 466.86,699.81 470.67,705.14 482.1,704.57 489.71,707.43 495.43,714.1 500.19,703.62 505.9,694.1 511.62,690.29 514.48,682.67 515.81,673.14 516.95,654.1 517.71,621.33 517.71,616"/>
<polygon fill="#004CFF" points="255.03,616 255.03,621.13 255.94,629.74 262.72,636.15 269.13,645.3 281.95,654.46 292.94,657.21 307.59,664.53 314,665.08 304,662.67 307.81,664.57 321.14,666.48 332.57,668.38 357.33,669.9 363.05,667.43 368.76,660.76 374.48,665.52 384,668.95 399.24,671.24 418.29,672.19 437.33,673.14 450.67,673.14 460.19,671.24 465.9,665.52 468.19,654.1 469.33,635.05 469.71,621.33 469.71,616"/>
<polygon fill="#004CFF" points="471.24,616 471.24,621.33 472.57,640.76 475.43,657.9 479.24,671.24 482.67,677.9 484.95,669.33 485.9,650.29 486.48,621.33 486.48,616"/>
<polygon fill="#4C00FF" points="265.47,616 265.47,621.13 266.38,628.82 270.04,635.23 278.29,633.4 281.03,628.82 281.58,621.13 281.58,616"/>
<polygon fill="#4C00FF" points="282.86,616 282.86,621.13 283.78,636.15 288.36,645.3 294.77,649.88 307.59,653.55 314,654.83 304,652.19 315.43,656.38 328.76,660.76 342.1,662.29 357.33,662.67 361.14,657.9 364,646.48 364.95,635.05 365.33,621.33 365.33,616"/>
<polygon fill="#4C00FF" points="374.86,616 374.86,621.33 375.43,640.76 377.33,654.1 382.1,659.81 395.43,661.71 410.67,662.29 427.81,663.62 444.95,666.48 456.38,662.67 461.14,656 463.05,640.76 463.62,621.33 463.62,616"/>
</g>
<rect x="69.4" y="621.9" width="488.3" height="151.6" fill="none" stroke="#000" stroke-opacity="0.38" stroke-width="1"/>
<line x1="65.9" y1="621.9" x2="68.9" y2="621.9" stroke="#000" stroke-opacity="0.45" stroke-width="1"/>
<text x="55" y="627.8" font-size="16.5" text-anchor="end">0</text>
<line x1="65.9" y1="652.22" x2="68.9" y2="652.22" stroke="#000" stroke-opacity="0.45" stroke-width="1"/>
<text x="55" y="658.12" font-size="16.5" text-anchor="end">20</text>
<line x1="65.9" y1="682.54" x2="68.9" y2="682.54" stroke="#000" stroke-opacity="0.45" stroke-width="1"/>
<text x="55" y="688.44" font-size="16.5" text-anchor="end">40</text>
<line x1="65.9" y1="712.86" x2="68.9" y2="712.86" stroke="#000" stroke-opacity="0.45" stroke-width="1"/>
<text x="55" y="718.76" font-size="16.5" text-anchor="end">60</text>
<line x1="65.9" y1="743.18" x2="68.9" y2="743.18" stroke="#000" stroke-opacity="0.45" stroke-width="1"/>
<text x="55" y="749.08" font-size="16.5" text-anchor="end">80</text>
<line x1="65.9" y1="773.5" x2="68.9" y2="773.5" stroke="#000" stroke-opacity="0.45" stroke-width="1"/>
<text x="55" y="779.4" font-size="16.5" text-anchor="end">100</text>
<line x1="69.4" y1="774" x2="69.4" y2="777" stroke="#000" stroke-opacity="0.45" stroke-width="1"/>
<line x1="110.2" y1="774" x2="110.2" y2="777" stroke="#000" stroke-opacity="0.45" stroke-width="1"/>
<line x1="151.01" y1="774" x2="151.01" y2="777" stroke="#000" stroke-opacity="0.45" stroke-width="1"/>
<line x1="191.81" y1="774" x2="191.81" y2="777" stroke="#000" stroke-opacity="0.45" stroke-width="1"/>
<line x1="232.62" y1="774" x2="232.62" y2="777" stroke="#000" stroke-opacity="0.45" stroke-width="1"/>
<line x1="273.42" y1="774" x2="273.42" y2="777" stroke="#000" stroke-opacity="0.45" stroke-width="1"/>
<line x1="314.22" y1="774" x2="314.22" y2="777" stroke="#000" stroke-opacity="0.45" stroke-width="1"/>
<line x1="355.03" y1="774" x2="355.03" y2="777" stroke="#000" stroke-opacity="0.45" stroke-width="1"/>
<line x1="395.83" y1="774" x2="395.83" y2="777" stroke="#000" stroke-opacity="0.45" stroke-width="1"/>
<line x1="436.63" y1="774" x2="436.63" y2="777" stroke="#000" stroke-opacity="0.45" stroke-width="1"/>
<line x1="477.44" y1="774" x2="477.44" y2="777" stroke="#000" stroke-opacity="0.45" stroke-width="1"/>
<line x1="518.24" y1="774" x2="518.24" y2="777" stroke="#000" stroke-opacity="0.45" stroke-width="1"/>
<text x="87.5" y="790.9" font-size="18.3" text-anchor="middle">Jan</text>
<text x="129.18" y="790.9" font-size="18.3" text-anchor="middle">Feb</text>
<text x="167.66" y="790.9" font-size="18.3" text-anchor="middle">Mar</text>
<text x="210.05" y="790.9" font-size="18.3" text-anchor="middle">Apr</text>
<text x="250.93" y="790.9" font-size="18.3" text-anchor="middle">May</text>
<text x="292.21" y="790.9" font-size="18.3" text-anchor="middle">Jun</text>
<text x="331.99" y="790.9" font-size="18.3" text-anchor="middle">Jul</text>
<text x="376.07" y="790.9" font-size="18.3" text-anchor="middle">Aug</text>
<text x="415.95" y="790.9" font-size="18.3" text-anchor="middle">Sep</text>
<text x="453.53" y="790.9" font-size="18.3" text-anchor="middle">Oct</text>
<text x="495.52" y="790.9" font-size="18.3" text-anchor="middle">Nov</text>
<text x="538" y="790.9" font-size="18.3" text-anchor="middle">Dec</text>
<text x="-0.6" y="605.5" font-size="29.5" font-weight="bold">E</text>
<text transform="translate(19,695.8) rotate(-90)" font-size="26.9" text-anchor="middle">Depth (m)</text>
<text x="590.8" y="567.5" font-size="24" font-style="italic" text-anchor="middle">NO<tspan font-size="15.5" dy="5.3">3</tspan></text>
<text x="589.8" y="596.1" font-size="24" text-anchor="middle">(µmol N L<tspan font-size="16" dy="-7.2" dx="0.3">−1</tspan><tspan dy="7.2" dx="0.4">)</tspan></text>
<rect x="572.2" y="621.4" width="15.3" height="76.9" fill="#FFDEAD"/>
<rect x="572.2" y="698" width="15.3" height="37.95" fill="#FFFF00"/>
<rect x="572.2" y="735.65" width="15.3" height="19.48" fill="#E6FF00"/>
<rect x="572.2" y="754.82" width="15.3" height="9.84" fill="#00FF4A"/>
<rect x="572.2" y="764.36" width="15.3" height="4.92" fill="#00E6FF"/>
<rect x="572.2" y="768.98" width="15.3" height="2.71" fill="#004CFF"/>
<rect x="572.2" y="771.39" width="15.3" height="2.91" fill="#4C00FF"/>
<line x1="572.2" y1="698" x2="591" y2="698" stroke="#000" stroke-opacity="0.6" stroke-width="0.9"/>
<line x1="572.2" y1="735.65" x2="591" y2="735.65" stroke="#000" stroke-opacity="0.6" stroke-width="0.9"/>
<line x1="572.2" y1="754.82" x2="591" y2="754.82" stroke="#000" stroke-opacity="0.6" stroke-width="0.9"/>
<line x1="572.2" y1="764.36" x2="591" y2="764.36" stroke="#000" stroke-opacity="0.6" stroke-width="0.9"/>
<line x1="572.2" y1="768.98" x2="591" y2="768.98" stroke="#000" stroke-opacity="0.6" stroke-width="0.9"/>
<line x1="572.2" y1="771.39" x2="591" y2="771.39" stroke="#000" stroke-opacity="0.6" stroke-width="0.9"/>
<rect x="572.7" y="621.9" width="14.3" height="151.6" fill="none" stroke="#000" stroke-opacity="0.38" stroke-width="1"/>
<line x1="587.5" y1="621.9" x2="591" y2="621.9" stroke="#000" stroke-opacity="0.45" stroke-width="1"/>
<line x1="587.5" y1="773.5" x2="591" y2="773.5" stroke="#000" stroke-opacity="0.45" stroke-width="1"/>
<text x="611.5" y="627.9" font-size="16" text-anchor="end">32</text>
<text x="611.5" y="705.2" font-size="16" text-anchor="end">16</text>
<text x="611.5" y="738.65" font-size="16" text-anchor="end">8</text>
<text x="611.5" y="759.92" font-size="16" text-anchor="end">4</text>
<text x="612" y="791.4" font-size="16" text-anchor="end">0</text>
<line x1="587.5" y1="764.36" x2="634.5" y2="758.86" stroke="#000" stroke-opacity="0.7" stroke-width="0.8"/>
<text x="637" y="757.96" font-size="16" text-anchor="start">2</text>
<line x1="587.5" y1="768.98" x2="634.5" y2="768.98" stroke="#000" stroke-opacity="0.7" stroke-width="0.8"/>
<text x="638.5" y="776.08" font-size="16" text-anchor="start">1</text>
<line x1="587.5" y1="771.39" x2="635.5" y2="779.49" stroke="#000" stroke-opacity="0.7" stroke-width="0.8"/>
<text x="632" y="794.19" font-size="16" text-anchor="start">0.5</text>
<clipPath id="clipF"><rect x="764.1" y="621.4" width="492.9" height="150.5"/></clipPath>
<g clip-path="url(#clipF)">
<polygon fill="#FFFF00" points="760,610 1265,610 1265,780 760,780"/>
<polygon fill="#E6FF00" points="883.08,616 883.08,621.49 883.63,634.32 885.46,648.97 888.21,659.96 895.53,672.78 901.03,685.6 905.6,698.42 909.27,713.07 912.93,729.55 916.59,744.21 919.34,758.86 920.26,768.01 1265,767.7 1265,610"/>
<polygon fill="#00FF4A" points="933.08,616 933.08,621.49 933.63,634.32 935.82,648.05 943.15,656.29 953.22,670.95 957.8,674.61 966.96,680.1 973.37,687.43 978.86,690.73 992.6,692.92 1010,696.22 1000,694.1 1017.14,697.52 1030.48,697.9 1055.24,701.71 1059.05,707.43 1064.76,715.05 1072.38,719.81 1080,724.57 1095.24,723.05 1114.29,721.9 1133.33,722.29 1155.24,724.19 1158.1,730.29 1161.9,736 1167.62,740.76 1180,745.14 1183.81,751.24 1187.62,759.81 1190.1,767.43 1265,767.5 1265,610"/>
<polygon fill="#00E6FF" points="940.95,616 940.95,621.49 941.68,632.48 944.07,637.06 952.31,643.11 958.72,649.88 966.96,655.38 972.45,661.79 978.86,670.03 991.68,670.03 1003.59,674.24 1010,675.52 1000,673.14 1005.71,674.67 1028.57,677.9 1055.24,682.29 1064.76,688.38 1080,693.14 1104.76,691.81 1133.33,691.43 1155.24,689.9 1161.9,694.1 1165.71,699.81 1168.57,703.62 1178.1,701.71 1185.71,699.81 1189.52,696 1191.43,690.29 1192.38,678.86 1193.9,672.19 1197.14,677.9 1201.9,679.81 1205.71,679.81 1208.57,675.05 1210.48,663.62 1211.43,644.57 1211.81,621.71 1211.81,616"/>
<polygon fill="#004CFF" points="951.03,616 951.03,621.49 951.39,629.74 957.8,636.15 966.96,647.14 978.86,655.38 991.68,657.76 1004.51,665.08 1010,665.08 1000,661.71 1003.81,664.57 1019.05,666.48 1034.29,668.95 1054.29,670.86 1060.95,668.38 1066.67,662.67 1072.38,665.52 1081.9,669.33 1095.24,673.14 1106.67,674.67 1131.43,675.43 1144.76,674.67 1155.81,672.19 1160,665.52 1162.86,656 1164.19,640.76 1164.76,621.71 1164.76,616"/>
<polygon fill="#4C00FF" points="960.55,616 960.55,621.49 961.47,626.99 966.96,637.06 978.86,635.78 980.7,641.64 984.36,645.3 990.77,648.97 1003.59,653.55 1010,655.38 1000,652.19 1011.43,656 1028.57,661.33 1041.9,663.24 1055.24,663.62 1059.05,659.81 1061.9,648.38 1062.86,635.05 1063.24,621.71 1063.24,616"/>
<polygon fill="#4C00FF" points="1072,616 1072,621.71 1072.38,640.76 1074.29,654.1 1080,659.81 1095.24,662.67 1106.67,664.57 1123.81,664.57 1142.86,666.48 1150.48,663.62 1156.19,658.86 1158.1,646.48 1159.05,621.71 1159.05,616"/>
</g>
<rect x="764.6" y="621.9" width="491.9" height="149.5" fill="none" stroke="#000" stroke-opacity="0.38" stroke-width="1"/>
<line x1="761.1" y1="621.9" x2="764.1" y2="621.9" stroke="#000" stroke-opacity="0.45" stroke-width="1"/>
<text x="754.6" y="627.8" font-size="16.5" text-anchor="end">0</text>
<line x1="761.1" y1="651.8" x2="764.1" y2="651.8" stroke="#000" stroke-opacity="0.45" stroke-width="1"/>
<text x="754.6" y="657.7" font-size="16.5" text-anchor="end">20</text>
<line x1="761.1" y1="681.7" x2="764.1" y2="681.7" stroke="#000" stroke-opacity="0.45" stroke-width="1"/>
<text x="754.6" y="687.6" font-size="16.5" text-anchor="end">40</text>
<line x1="761.1" y1="711.6" x2="764.1" y2="711.6" stroke="#000" stroke-opacity="0.45" stroke-width="1"/>
<text x="754.6" y="717.5" font-size="16.5" text-anchor="end">60</text>
<line x1="761.1" y1="741.5" x2="764.1" y2="741.5" stroke="#000" stroke-opacity="0.45" stroke-width="1"/>
<text x="754.6" y="747.4" font-size="16.5" text-anchor="end">80</text>
<line x1="761.1" y1="771.4" x2="764.1" y2="771.4" stroke="#000" stroke-opacity="0.45" stroke-width="1"/>
<text x="754.6" y="777.3" font-size="16.5" text-anchor="end">100</text>
<line x1="764.6" y1="771.9" x2="764.6" y2="774.9" stroke="#000" stroke-opacity="0.45" stroke-width="1"/>
<line x1="805.7" y1="771.9" x2="805.7" y2="774.9" stroke="#000" stroke-opacity="0.45" stroke-width="1"/>
<line x1="846.81" y1="771.9" x2="846.81" y2="774.9" stroke="#000" stroke-opacity="0.45" stroke-width="1"/>
<line x1="887.91" y1="771.9" x2="887.91" y2="774.9" stroke="#000" stroke-opacity="0.45" stroke-width="1"/>
<line x1="929.02" y1="771.9" x2="929.02" y2="774.9" stroke="#000" stroke-opacity="0.45" stroke-width="1"/>
<line x1="970.12" y1="771.9" x2="970.12" y2="774.9" stroke="#000" stroke-opacity="0.45" stroke-width="1"/>
<line x1="1011.23" y1="771.9" x2="1011.23" y2="774.9" stroke="#000" stroke-opacity="0.45" stroke-width="1"/>
<line x1="1052.33" y1="771.9" x2="1052.33" y2="774.9" stroke="#000" stroke-opacity="0.45" stroke-width="1"/>
<line x1="1093.44" y1="771.9" x2="1093.44" y2="774.9" stroke="#000" stroke-opacity="0.45" stroke-width="1"/>
<line x1="1134.54" y1="771.9" x2="1134.54" y2="774.9" stroke="#000" stroke-opacity="0.45" stroke-width="1"/>
<line x1="1175.65" y1="771.9" x2="1175.65" y2="774.9" stroke="#000" stroke-opacity="0.45" stroke-width="1"/>
<line x1="1216.75" y1="771.9" x2="1216.75" y2="774.9" stroke="#000" stroke-opacity="0.45" stroke-width="1"/>
<text x="786.9" y="792.7" font-size="18.3" text-anchor="middle">Jan</text>
<text x="828.61" y="792.7" font-size="18.3" text-anchor="middle">Feb</text>
<text x="867.12" y="792.7" font-size="18.3" text-anchor="middle">Mar</text>
<text x="909.53" y="792.7" font-size="18.3" text-anchor="middle">Apr</text>
<text x="950.44" y="792.7" font-size="18.3" text-anchor="middle">May</text>
<text x="991.74" y="792.7" font-size="18.3" text-anchor="middle">Jun</text>
<text x="1031.55" y="792.7" font-size="18.3" text-anchor="middle">Jul</text>
<text x="1075.67" y="792.7" font-size="18.3" text-anchor="middle">Aug</text>
<text x="1115.57" y="792.7" font-size="18.3" text-anchor="middle">Sep</text>
<text x="1153.17" y="792.7" font-size="18.3" text-anchor="middle">Oct</text>
<text x="1195.19" y="792.7" font-size="18.3" text-anchor="middle">Nov</text>
<text x="1237.7" y="792.7" font-size="18.3" text-anchor="middle">Dec</text>
<text x="678.6" y="605.5" font-size="29.5" font-weight="bold">F</text>
<text transform="translate(719.9,699.8) rotate(-90)" font-size="26.9" text-anchor="middle">Depth (m)</text>
<text x="1286.3" y="573.8" font-size="24" font-style="italic" text-anchor="middle">NO<tspan font-size="15.5" dy="5.3">3</tspan></text>
<text x="1285.5" y="602.4" font-size="24" text-anchor="middle">(µmol N L<tspan font-size="16" dy="-7.2" dx="0.3">−1</tspan><tspan dy="7.2" dx="0.4">)</tspan></text>
<rect x="1271.3" y="621.4" width="15.3" height="75.85" fill="#FFDEAD"/>
<rect x="1271.3" y="696.95" width="15.3" height="37.43" fill="#FFFF00"/>
<rect x="1271.3" y="734.08" width="15.3" height="19.21" fill="#E6FF00"/>
<rect x="1271.3" y="752.99" width="15.3" height="9.71" fill="#00FF4A"/>
<rect x="1271.3" y="762.39" width="15.3" height="4.85" fill="#00E6FF"/>
<rect x="1271.3" y="766.95" width="15.3" height="2.68" fill="#004CFF"/>
<rect x="1271.3" y="769.33" width="15.3" height="2.87" fill="#4C00FF"/>
<line x1="1271.3" y1="696.95" x2="1290.1" y2="696.95" stroke="#000" stroke-opacity="0.6" stroke-width="0.9"/>
<line x1="1271.3" y1="734.08" x2="1290.1" y2="734.08" stroke="#000" stroke-opacity="0.6" stroke-width="0.9"/>
<line x1="1271.3" y1="752.99" x2="1290.1" y2="752.99" stroke="#000" stroke-opacity="0.6" stroke-width="0.9"/>
<line x1="1271.3" y1="762.39" x2="1290.1" y2="762.39" stroke="#000" stroke-opacity="0.6" stroke-width="0.9"/>
<line x1="1271.3" y1="766.95" x2="1290.1" y2="766.95" stroke="#000" stroke-opacity="0.6" stroke-width="0.9"/>
<line x1="1271.3" y1="769.33" x2="1290.1" y2="769.33" stroke="#000" stroke-opacity="0.6" stroke-width="0.9"/>
<rect x="1271.8" y="621.9" width="14.3" height="149.5" fill="none" stroke="#000" stroke-opacity="0.38" stroke-width="1"/>
<line x1="1286.6" y1="621.9" x2="1290.1" y2="621.9" stroke="#000" stroke-opacity="0.45" stroke-width="1"/>
<line x1="1286.6" y1="771.4" x2="1290.1" y2="771.4" stroke="#000" stroke-opacity="0.45" stroke-width="1"/>
<text x="1310.6" y="627.9" font-size="16" text-anchor="end">32</text>
<text x="1310.6" y="704.15" font-size="16" text-anchor="end">16</text>
<text x="1310.6" y="737.08" font-size="16" text-anchor="end">8</text>
<text x="1310.6" y="758.09" font-size="16" text-anchor="end">4</text>
<text x="1311.1" y="789.3" font-size="16" text-anchor="end">0</text>
<line x1="1286.6" y1="762.39" x2="1333.6" y2="756.89" stroke="#000" stroke-opacity="0.7" stroke-width="0.8"/>
<text x="1336.1" y="755.99" font-size="16" text-anchor="start">2</text>
<line x1="1286.6" y1="766.95" x2="1333.6" y2="766.95" stroke="#000" stroke-opacity="0.7" stroke-width="0.8"/>
<text x="1337.6" y="774.05" font-size="16" text-anchor="start">1</text>
<line x1="1286.6" y1="769.33" x2="1334.6" y2="777.43" stroke="#000" stroke-opacity="0.7" stroke-width="0.8"/>
<text x="1331.1" y="792.13" font-size="16" text-anchor="start">0.5</text>
<clipPath id="clipG"><rect x="71" y="891.2" width="488.1" height="152.7"/></clipPath>
<g clip-path="url(#clipG)">
<polygon fill="#FFDEAD" points="60,880 565,880 565,1050 60,1050"/>
<polygon fill="#FFFF00" points="174.42,886 174.42,891.49 174.97,904.32 175.89,922.63 177.72,940.95 179.55,959.26 183.22,981.24 188.71,995.89 196.04,1010.54 197.87,1025.19 199.7,1039.85 199.88,1040.76 565,1041.2 565,880"/>
<polygon fill="#E6FF00" points="207.94,886 207.94,891.49 209.77,904.32 214.35,913.47 218.01,926.29 221.68,940.95 227.17,951.93 230.84,959.26 234.5,968.42 246.4,968.78 250.98,977.58 258.31,988.56 267.47,994.06 276.62,999.55 285.78,1006.88 291.27,1016.04 298.6,1023.36 305.01,1030.69 305.93,1039.48 565,1040.1 565,880"/>
<polygon fill="#00FF4A" points="240.91,886 240.91,891.49 241.82,904.32 243.66,913.47 246.4,919.88 252.81,922.63 260.14,929.96 269.3,935.45 277.54,940.95 283.95,944.61 294.94,944.24 309.59,947.9 316,948.27 304,946.95 309.71,947.9 332.57,949.81 358.29,952.67 364.95,958.38 370.67,964.48 377.33,967.52 384,972.1 395.43,971.71 403.05,968.86 414.48,967.52 437.33,966.38 459.24,966 464,970.76 467.81,977.43 471.24,983.71 484,980.86 489.71,983.14 496.38,986 500.19,978.38 504.95,971.71 508.76,968.29 515.43,969.43 521.14,970.76 525.9,965.05 530.67,956.48 534.48,943.14 537.33,927.9 538.67,905.05 539.24,891.33 539.24,886"/>
<polygon fill="#00E6FF" points="246.4,886 246.4,891.49 247.32,898.82 250.98,904.32 260.14,907.98 265.63,911.64 272.04,915.3 278.45,913.47 283.95,908.89 287.61,913.11 294.94,916.22 304.1,918.97 316,922.26 304,919.33 315.43,923.14 328.76,926.95 342.1,929.43 359.24,930.76 364.95,926 367.81,918.38 369.14,905.05 369.71,891.33 369.71,886"/>
<polygon fill="#004CFF" points="346.86,886 346.86,891.33 348.19,896.48 352.57,902.19 358.29,905.05 360.19,897.43 360.76,891.33 360.76,886"/>
<polygon fill="#00E6FF" points="386.29,886 386.29,891.33 386.86,906.95 393.52,914.57 403.05,921.24 410.67,926 427.81,930.76 445.9,935.9 454.48,930.76 459.24,926 460.19,914.57 460.76,891.33 460.76,886"/>
</g>
<rect x="71.5" y="891.7" width="487.1" height="151.7" fill="none" stroke="#000" stroke-opacity="0.38" stroke-width="1"/>
<line x1="68" y1="891.7" x2="71" y2="891.7" stroke="#000" stroke-opacity="0.45" stroke-width="1"/>
<text x="54.3" y="897.6" font-size="16.5" text-anchor="end">0</text>
<line x1="68" y1="922.04" x2="71" y2="922.04" stroke="#000" stroke-opacity="0.45" stroke-width="1"/>
<text x="54.3" y="927.94" font-size="16.5" text-anchor="end">20</text>
<line x1="68" y1="952.38" x2="71" y2="952.38" stroke="#000" stroke-opacity="0.45" stroke-width="1"/>
<text x="54.3" y="958.28" font-size="16.5" text-anchor="end">40</text>
<line x1="68" y1="982.72" x2="71" y2="982.72" stroke="#000" stroke-opacity="0.45" stroke-width="1"/>
<text x="54.3" y="988.62" font-size="16.5" text-anchor="end">60</text>
<line x1="68" y1="1013.06" x2="71" y2="1013.06" stroke="#000" stroke-opacity="0.45" stroke-width="1"/>
<text x="54.3" y="1018.96" font-size="16.5" text-anchor="end">80</text>
<line x1="68" y1="1043.4" x2="71" y2="1043.4" stroke="#000" stroke-opacity="0.45" stroke-width="1"/>
<text x="54.3" y="1049.3" font-size="16.5" text-anchor="end">100</text>
<line x1="71.5" y1="1043.9" x2="71.5" y2="1046.9" stroke="#000" stroke-opacity="0.45" stroke-width="1"/>
<line x1="112.2" y1="1043.9" x2="112.2" y2="1046.9" stroke="#000" stroke-opacity="0.45" stroke-width="1"/>
<line x1="152.91" y1="1043.9" x2="152.91" y2="1046.9" stroke="#000" stroke-opacity="0.45" stroke-width="1"/>
<line x1="193.61" y1="1043.9" x2="193.61" y2="1046.9" stroke="#000" stroke-opacity="0.45" stroke-width="1"/>
<line x1="234.31" y1="1043.9" x2="234.31" y2="1046.9" stroke="#000" stroke-opacity="0.45" stroke-width="1"/>
<line x1="275.02" y1="1043.9" x2="275.02" y2="1046.9" stroke="#000" stroke-opacity="0.45" stroke-width="1"/>
<line x1="315.72" y1="1043.9" x2="315.72" y2="1046.9" stroke="#000" stroke-opacity="0.45" stroke-width="1"/>
<line x1="356.43" y1="1043.9" x2="356.43" y2="1046.9" stroke="#000" stroke-opacity="0.45" stroke-width="1"/>
<line x1="397.13" y1="1043.9" x2="397.13" y2="1046.9" stroke="#000" stroke-opacity="0.45" stroke-width="1"/>
<line x1="437.83" y1="1043.9" x2="437.83" y2="1046.9" stroke="#000" stroke-opacity="0.45" stroke-width="1"/>
<line x1="478.54" y1="1043.9" x2="478.54" y2="1046.9" stroke="#000" stroke-opacity="0.45" stroke-width="1"/>
<line x1="519.24" y1="1043.9" x2="519.24" y2="1046.9" stroke="#000" stroke-opacity="0.45" stroke-width="1"/>
<text x="93.7" y="1062.2" font-size="18.3" text-anchor="middle">Jan</text>
<text x="135.48" y="1062.2" font-size="18.3" text-anchor="middle">Feb</text>
<text x="174.04" y="1062.2" font-size="18.3" text-anchor="middle">Mar</text>
<text x="216.52" y="1062.2" font-size="18.3" text-anchor="middle">Apr</text>
<text x="257.49" y="1062.2" font-size="18.3" text-anchor="middle">May</text>
<text x="298.86" y="1062.2" font-size="18.3" text-anchor="middle">Jun</text>
<text x="338.73" y="1062.2" font-size="18.3" text-anchor="middle">Jul</text>
<text x="382.91" y="1062.2" font-size="18.3" text-anchor="middle">Aug</text>
<text x="422.88" y="1062.2" font-size="18.3" text-anchor="middle">Sep</text>
<text x="460.54" y="1062.2" font-size="18.3" text-anchor="middle">Oct</text>
<text x="502.62" y="1062.2" font-size="18.3" text-anchor="middle">Nov</text>
<text x="545.2" y="1062.2" font-size="18.3" text-anchor="middle">Dec</text>
<text x="-0.6" y="876.5" font-size="29.5" font-weight="bold">G</text>
<text transform="translate(19,965.8) rotate(-90)" font-size="26.9" text-anchor="middle">Depth (m)</text>
<text x="590.3" y="843.2" font-size="24" font-style="italic" text-anchor="middle">Si(OH)<tspan font-size="15.5" dy="5.3">4</tspan></text>
<text x="589.8" y="871.4" font-size="24" text-anchor="middle">(µmol Si L<tspan font-size="16" dy="-7.2" dx="0.3">−1</tspan><tspan dy="7.2" dx="0.4">)</tspan></text>
<rect x="573.3" y="891.2" width="15.3" height="76.95" fill="#FFDEAD"/>
<rect x="573.3" y="967.85" width="15.3" height="37.97" fill="#FFFF00"/>
<rect x="573.3" y="1005.52" width="15.3" height="19.49" fill="#E6FF00"/>
<rect x="573.3" y="1024.71" width="15.3" height="9.84" fill="#00FF4A"/>
<rect x="573.3" y="1034.26" width="15.3" height="4.92" fill="#00E6FF"/>
<rect x="573.3" y="1038.88" width="15.3" height="2.71" fill="#004CFF"/>
<rect x="573.3" y="1041.29" width="15.3" height="2.91" fill="#4C00FF"/>
<line x1="573.3" y1="967.85" x2="592.1" y2="967.85" stroke="#000" stroke-opacity="0.6" stroke-width="0.9"/>
<line x1="573.3" y1="1005.52" x2="592.1" y2="1005.52" stroke="#000" stroke-opacity="0.6" stroke-width="0.9"/>
<line x1="573.3" y1="1024.71" x2="592.1" y2="1024.71" stroke="#000" stroke-opacity="0.6" stroke-width="0.9"/>
<line x1="573.3" y1="1034.26" x2="592.1" y2="1034.26" stroke="#000" stroke-opacity="0.6" stroke-width="0.9"/>
<line x1="573.3" y1="1038.88" x2="592.1" y2="1038.88" stroke="#000" stroke-opacity="0.6" stroke-width="0.9"/>
<line x1="573.3" y1="1041.29" x2="592.1" y2="1041.29" stroke="#000" stroke-opacity="0.6" stroke-width="0.9"/>
<rect x="573.8" y="891.7" width="14.3" height="151.7" fill="none" stroke="#000" stroke-opacity="0.38" stroke-width="1"/>
<line x1="588.6" y1="891.7" x2="592.1" y2="891.7" stroke="#000" stroke-opacity="0.45" stroke-width="1"/>
<line x1="588.6" y1="1043.4" x2="592.1" y2="1043.4" stroke="#000" stroke-opacity="0.45" stroke-width="1"/>
<text x="612.6" y="897.7" font-size="16" text-anchor="end">32</text>
<text x="612.6" y="975.05" font-size="16" text-anchor="end">16</text>
<text x="612.6" y="1008.52" font-size="16" text-anchor="end">8</text>
<text x="612.6" y="1029.81" font-size="16" text-anchor="end">4</text>
<text x="613.1" y="1061.3" font-size="16" text-anchor="end">0</text>
<line x1="588.6" y1="1034.26" x2="635.6" y2="1028.76" stroke="#000" stroke-opacity="0.7" stroke-width="0.8"/>
<text x="638.1" y="1027.86" font-size="16" text-anchor="start">2</text>
<line x1="588.6" y1="1038.88" x2="635.6" y2="1038.88" stroke="#000" stroke-opacity="0.7" stroke-width="0.8"/>
<text x="639.6" y="1045.98" font-size="16" text-anchor="start">1</text>
<line x1="588.6" y1="1041.29" x2="636.6" y2="1049.39" stroke="#000" stroke-opacity="0.7" stroke-width="0.8"/>
<text x="633.1" y="1064.09" font-size="16" text-anchor="start">0.5</text>
<clipPath id="clipH"><rect x="762" y="890.9" width="494.1" height="152.1"/></clipPath>
<g clip-path="url(#clipH)">
<polygon fill="#FFDEAD" points="755,880 1265,880 1265,1050 755,1050"/>
<polygon fill="#FFFF00" points="865.97,886 865.97,891.49 866.34,904.32 866.89,922.63 868.72,940.95 870.55,959.26 873.3,973.91 876.05,989.48 881.54,1001.38 888.5,1017.87 890.33,1032.52 891.25,1038.38 891.43,1039.48 1265,1040.6 1265,880"/>
<polygon fill="#E6FF00" points="897.66,886 897.66,891.49 898.94,900.65 901.69,913.47 908.1,924.46 911.76,933.62 914.51,947.36 919.09,955.6 924.58,964.75 926.96,975.74 938.32,976.66 943.81,986.73 951.14,997.72 958.47,1003.22 967.62,1010.54 977.7,1016.95 981.36,1025.19 985.02,1038.01 1265,1038.9 1265,880"/>
<polygon fill="#00FF4A" points="933.74,886 933.74,891.49 934.29,904.32 935.57,911.64 938.32,918.97 943.81,921.71 951.14,929.04 963.96,935.45 970.37,940.95 976.78,944.97 989.6,944.61 1000.59,948.27 1007,948.64 1000,947.9 1011.43,948.86 1028.57,950.76 1041.9,952.29 1054.29,953.62 1059.05,958.38 1065.71,966 1072.38,969.81 1078.1,974.95 1089.52,973.62 1103.81,969.81 1118.1,969.05 1140.95,968.48 1154.29,969.81 1159.05,975.52 1163.81,983.14 1167.24,991.71 1179.05,990.76 1183.81,994.57 1187.62,1000.29 1192.38,1010.19 1198.1,1007.9 1204.76,1005.05 1208.57,1011.71 1211.43,1019.33 1214.29,1028.86 1215.24,1038.38 1265,1038.9 1265,880"/>
<polygon fill="#00E6FF" points="938.87,886 938.87,891.49 939.78,898.82 942.9,903.4 950.22,906.15 958.47,910.73 964.88,915.3 974.95,913.47 977.7,912.56 981.36,915.3 989.6,918.05 1000.59,920.8 1007,922.63 1000,920.29 1011.43,924.1 1028.57,927.9 1041.9,930.76 1053.33,931.71 1059.05,928.86 1063.81,922.19 1065.14,908.86 1065.71,891.33 1065.71,886"/>
<polygon fill="#004CFF" points="1029.52,886 1029.52,891.33 1030.48,896.48 1034.29,903.14 1040,907.9 1052.38,910.76 1055.24,905.05 1056.57,891.33 1056.57,886"/>
<polygon fill="#00E6FF" points="1066.29,886 1066.29,891.33 1066.67,901.24 1069.52,910.76 1074.29,918.38 1080,924.1 1089.52,929.81 1100.95,934.57 1114.29,937.43 1133.33,941.24 1144.76,942.57 1153.33,942.19 1159.05,936.48 1161.9,927.9 1162.86,914.57 1163.43,891.33 1163.43,886"/>
<polygon fill="#004CFF" points="1107.05,886 1107.05,891.33 1107.62,901.24 1110.48,908.86 1117.14,917.43 1129.52,922.19 1140.95,924.48 1147.62,921.24 1153.33,915.52 1154.67,905.05 1154.86,891.33 1154.86,886"/>
</g>
<rect x="762.5" y="891.4" width="493.1" height="151.1" fill="none" stroke="#000" stroke-opacity="0.38" stroke-width="1"/>
<line x1="759" y1="891.4" x2="762" y2="891.4" stroke="#000" stroke-opacity="0.45" stroke-width="1"/>
<text x="754.3" y="897.3" font-size="16.5" text-anchor="end">0</text>
<line x1="759" y1="921.62" x2="762" y2="921.62" stroke="#000" stroke-opacity="0.45" stroke-width="1"/>
<text x="754.3" y="927.52" font-size="16.5" text-anchor="end">20</text>
<line x1="759" y1="951.84" x2="762" y2="951.84" stroke="#000" stroke-opacity="0.45" stroke-width="1"/>
<text x="754.3" y="957.74" font-size="16.5" text-anchor="end">40</text>
<line x1="759" y1="982.06" x2="762" y2="982.06" stroke="#000" stroke-opacity="0.45" stroke-width="1"/>
<text x="754.3" y="987.96" font-size="16.5" text-anchor="end">60</text>
<line x1="759" y1="1012.28" x2="762" y2="1012.28" stroke="#000" stroke-opacity="0.45" stroke-width="1"/>
<text x="754.3" y="1018.18" font-size="16.5" text-anchor="end">80</text>
<line x1="759" y1="1042.5" x2="762" y2="1042.5" stroke="#000" stroke-opacity="0.45" stroke-width="1"/>
<text x="754.3" y="1048.4" font-size="16.5" text-anchor="end">100</text>
<line x1="762.5" y1="1043" x2="762.5" y2="1046" stroke="#000" stroke-opacity="0.45" stroke-width="1"/>
<line x1="803.7" y1="1043" x2="803.7" y2="1046" stroke="#000" stroke-opacity="0.45" stroke-width="1"/>
<line x1="844.91" y1="1043" x2="844.91" y2="1046" stroke="#000" stroke-opacity="0.45" stroke-width="1"/>
<line x1="886.11" y1="1043" x2="886.11" y2="1046" stroke="#000" stroke-opacity="0.45" stroke-width="1"/>
<line x1="927.32" y1="1043" x2="927.32" y2="1046" stroke="#000" stroke-opacity="0.45" stroke-width="1"/>
<line x1="968.52" y1="1043" x2="968.52" y2="1046" stroke="#000" stroke-opacity="0.45" stroke-width="1"/>
<line x1="1009.73" y1="1043" x2="1009.73" y2="1046" stroke="#000" stroke-opacity="0.45" stroke-width="1"/>
<line x1="1050.93" y1="1043" x2="1050.93" y2="1046" stroke="#000" stroke-opacity="0.45" stroke-width="1"/>
<line x1="1092.14" y1="1043" x2="1092.14" y2="1046" stroke="#000" stroke-opacity="0.45" stroke-width="1"/>
<line x1="1133.34" y1="1043" x2="1133.34" y2="1046" stroke="#000" stroke-opacity="0.45" stroke-width="1"/>
<line x1="1174.55" y1="1043" x2="1174.55" y2="1046" stroke="#000" stroke-opacity="0.45" stroke-width="1"/>
<line x1="1215.75" y1="1043" x2="1215.75" y2="1046" stroke="#000" stroke-opacity="0.45" stroke-width="1"/>
<text x="784" y="1061.6" font-size="18.3" text-anchor="middle">Jan</text>
<text x="826.07" y="1061.6" font-size="18.3" text-anchor="middle">Feb</text>
<text x="864.9" y="1061.6" font-size="18.3" text-anchor="middle">Mar</text>
<text x="907.66" y="1061.6" font-size="18.3" text-anchor="middle">Apr</text>
<text x="948.92" y="1061.6" font-size="18.3" text-anchor="middle">May</text>
<text x="990.56" y="1061.6" font-size="18.3" text-anchor="middle">Jun</text>
<text x="1030.7" y="1061.6" font-size="18.3" text-anchor="middle">Jul</text>
<text x="1075.19" y="1061.6" font-size="18.3" text-anchor="middle">Aug</text>
<text x="1115.44" y="1061.6" font-size="18.3" text-anchor="middle">Sep</text>
<text x="1153.36" y="1061.6" font-size="18.3" text-anchor="middle">Oct</text>
<text x="1195.73" y="1061.6" font-size="18.3" text-anchor="middle">Nov</text>
<text x="1238.6" y="1061.6" font-size="18.3" text-anchor="middle">Dec</text>
<text x="678.6" y="876.5" font-size="29.5" font-weight="bold">H</text>
<text transform="translate(719.1,963.6) rotate(-90)" font-size="26.9" text-anchor="middle">Depth (m)</text>
<text x="1281.3" y="839.2" font-size="24" font-style="italic" text-anchor="middle">Si(OH)<tspan font-size="15.5" dy="5.3">4</tspan></text>
<text x="1280.7" y="868.4" font-size="24" text-anchor="middle">(µmol Si L<tspan font-size="16" dy="-7.2" dx="0.3">−1</tspan><tspan dy="7.2" dx="0.4">)</tspan></text>
<rect x="1270" y="890.9" width="15.3" height="76.65" fill="#FFDEAD"/>
<rect x="1270" y="967.25" width="15.3" height="37.82" fill="#FFFF00"/>
<rect x="1270" y="1004.77" width="15.3" height="19.41" fill="#E6FF00"/>
<rect x="1270" y="1023.89" width="15.3" height="9.81" fill="#00FF4A"/>
<rect x="1270" y="1033.39" width="15.3" height="4.9" fill="#00E6FF"/>
<rect x="1270" y="1038" width="15.3" height="2.7" fill="#004CFF"/>
<rect x="1270" y="1040.4" width="15.3" height="2.9" fill="#4C00FF"/>
<line x1="1270" y1="967.25" x2="1288.8" y2="967.25" stroke="#000" stroke-opacity="0.6" stroke-width="0.9"/>
<line x1="1270" y1="1004.77" x2="1288.8" y2="1004.77" stroke="#000" stroke-opacity="0.6" stroke-width="0.9"/>
<line x1="1270" y1="1023.89" x2="1288.8" y2="1023.89" stroke="#000" stroke-opacity="0.6" stroke-width="0.9"/>
<line x1="1270" y1="1033.39" x2="1288.8" y2="1033.39" stroke="#000" stroke-opacity="0.6" stroke-width="0.9"/>
<line x1="1270" y1="1038" x2="1288.8" y2="1038" stroke="#000" stroke-opacity="0.6" stroke-width="0.9"/>
<line x1="1270" y1="1040.4" x2="1288.8" y2="1040.4" stroke="#000" stroke-opacity="0.6" stroke-width="0.9"/>
<rect x="1270.5" y="891.4" width="14.3" height="151.1" fill="none" stroke="#000" stroke-opacity="0.38" stroke-width="1"/>
<line x1="1285.3" y1="891.4" x2="1288.8" y2="891.4" stroke="#000" stroke-opacity="0.45" stroke-width="1"/>
<line x1="1285.3" y1="1042.5" x2="1288.8" y2="1042.5" stroke="#000" stroke-opacity="0.45" stroke-width="1"/>
<text x="1309.3" y="897.4" font-size="16" text-anchor="end">32</text>
<text x="1309.3" y="974.45" font-size="16" text-anchor="end">16</text>
<text x="1309.3" y="1007.77" font-size="16" text-anchor="end">8</text>
<text x="1309.3" y="1028.99" font-size="16" text-anchor="end">4</text>
<text x="1309.8" y="1060.4" font-size="16" text-anchor="end">0</text>
<line x1="1285.3" y1="1033.39" x2="1332.3" y2="1027.89" stroke="#000" stroke-opacity="0.7" stroke-width="0.8"/>
<text x="1334.8" y="1026.99" font-size="16" text-anchor="start">2</text>
<line x1="1285.3" y1="1038" x2="1332.3" y2="1038" stroke="#000" stroke-opacity="0.7" stroke-width="0.8"/>
<text x="1336.3" y="1045.1" font-size="16" text-anchor="start">1</text>
<line x1="1285.3" y1="1040.4" x2="1333.3" y2="1048.5" stroke="#000" stroke-opacity="0.7" stroke-width="0.8"/>
<text x="1329.8" y="1063.2" font-size="16" text-anchor="start">0.5</text>
<clipPath id="clipI"><rect x="71" y="1166.4" width="488" height="152.5"/></clipPath>
<g clip-path="url(#clipI)">
<polygon fill="#004CFF" points="60,1155 565,1155 565,1325 60,1325"/>
<polygon fill="#00E6FF" points="60,1325 60,1240.67 71.49,1240.67 83.77,1244.33 83.77,1259.9 96.22,1263.56 96.22,1267.59 109.04,1271.44 120.95,1267.59 120.95,1294.7 133.77,1298.36 146.04,1294.7 146.04,1248.55 158.49,1252.03 171.31,1248.36 171.31,1244.33 183.22,1240.67 183.22,1224.74 196.04,1221.07 196.04,1229.13 208.49,1232.79 208.49,1240.67 221.31,1244.33 233.58,1240.67 246.04,1236.64 246.04,1213.56 258.31,1216.86 258.31,1221.07 271.13,1225.1 283.03,1228.77 295.85,1232.79 307.76,1236.64 307.81,1236.62 358.86,1236.62 358.86,1255.67 371.05,1259.48 383.62,1255.67 383.62,1225.19 396.38,1228.62 408.76,1228.62 422.1,1224.81 433.52,1221 446.86,1220.62 458.29,1217.19 458.29,1229 471.24,1232.81 483.05,1229 483.05,1224.43 496,1220.62 496,1216.81 508.76,1216.81 521.14,1213 521.14,1205.38 533.52,1201.57 545.9,1197.76 558.67,1193.95 570.67,1189.57 565,1325"/>
<polygon fill="#4C00FF" points="315.43,1161 315.43,1166.71 318.29,1173.38 324.95,1178.14 338.29,1181.57 359.24,1186.14 363.43,1182.9 358.29,1180.05 349.71,1177.76 340.19,1174.71 339.81,1166.71 339.81,1161"/>
<polygon fill="#4C00FF" points="416,1161 416,1166.71 415.43,1178.14 410.67,1181 403.05,1181.57 396.38,1181 391.62,1185.38 390.67,1189.57 403.05,1193.38 408.76,1194.9 420.19,1195.29 429.71,1198.14 437.33,1200.62 444.95,1201.38 454.48,1197.57 461.14,1194.33 464.95,1187.67 466.86,1180.05 468.19,1166.71 468.19,1161"/>
</g>
<rect x="71.5" y="1166.9" width="487" height="151.5" fill="none" stroke="#000" stroke-opacity="0.38" stroke-width="1"/>
<line x1="68" y1="1166.9" x2="71" y2="1166.9" stroke="#000" stroke-opacity="0.45" stroke-width="1"/>
<text x="58.2" y="1172.8" font-size="16.5" text-anchor="end">0</text>
<line x1="68" y1="1197.2" x2="71" y2="1197.2" stroke="#000" stroke-opacity="0.45" stroke-width="1"/>
<text x="58.2" y="1203.1" font-size="16.5" text-anchor="end">20</text>
<line x1="68" y1="1227.5" x2="71" y2="1227.5" stroke="#000" stroke-opacity="0.45" stroke-width="1"/>
<text x="58.2" y="1233.4" font-size="16.5" text-anchor="end">40</text>
<line x1="68" y1="1257.8" x2="71" y2="1257.8" stroke="#000" stroke-opacity="0.45" stroke-width="1"/>
<text x="58.2" y="1263.7" font-size="16.5" text-anchor="end">60</text>
<line x1="68" y1="1288.1" x2="71" y2="1288.1" stroke="#000" stroke-opacity="0.45" stroke-width="1"/>
<text x="58.2" y="1294" font-size="16.5" text-anchor="end">80</text>
<line x1="68" y1="1318.4" x2="71" y2="1318.4" stroke="#000" stroke-opacity="0.45" stroke-width="1"/>
<text x="58.2" y="1324.3" font-size="16.5" text-anchor="end">100</text>
<line x1="71.5" y1="1318.9" x2="71.5" y2="1321.9" stroke="#000" stroke-opacity="0.45" stroke-width="1"/>
<line x1="112.2" y1="1318.9" x2="112.2" y2="1321.9" stroke="#000" stroke-opacity="0.45" stroke-width="1"/>
<line x1="152.89" y1="1318.9" x2="152.89" y2="1321.9" stroke="#000" stroke-opacity="0.45" stroke-width="1"/>
<line x1="193.59" y1="1318.9" x2="193.59" y2="1321.9" stroke="#000" stroke-opacity="0.45" stroke-width="1"/>
<line x1="234.28" y1="1318.9" x2="234.28" y2="1321.9" stroke="#000" stroke-opacity="0.45" stroke-width="1"/>
<line x1="274.98" y1="1318.9" x2="274.98" y2="1321.9" stroke="#000" stroke-opacity="0.45" stroke-width="1"/>
<line x1="315.67" y1="1318.9" x2="315.67" y2="1321.9" stroke="#000" stroke-opacity="0.45" stroke-width="1"/>
<line x1="356.37" y1="1318.9" x2="356.37" y2="1321.9" stroke="#000" stroke-opacity="0.45" stroke-width="1"/>
<line x1="397.06" y1="1318.9" x2="397.06" y2="1321.9" stroke="#000" stroke-opacity="0.45" stroke-width="1"/>
<line x1="437.76" y1="1318.9" x2="437.76" y2="1321.9" stroke="#000" stroke-opacity="0.45" stroke-width="1"/>
<line x1="478.45" y1="1318.9" x2="478.45" y2="1321.9" stroke="#000" stroke-opacity="0.45" stroke-width="1"/>
<line x1="519.15" y1="1318.9" x2="519.15" y2="1321.9" stroke="#000" stroke-opacity="0.45" stroke-width="1"/>
<text x="93.7" y="1334.8" font-size="18.3" text-anchor="middle">Jan</text>
<text x="135.18" y="1334.8" font-size="18.3" text-anchor="middle">Feb</text>
<text x="173.47" y="1334.8" font-size="18.3" text-anchor="middle">Mar</text>
<text x="215.65" y="1334.8" font-size="18.3" text-anchor="middle">Apr</text>
<text x="256.33" y="1334.8" font-size="18.3" text-anchor="middle">May</text>
<text x="297.41" y="1334.8" font-size="18.3" text-anchor="middle">Jun</text>
<text x="337" y="1334.8" font-size="18.3" text-anchor="middle">Jul</text>
<text x="380.87" y="1334.8" font-size="18.3" text-anchor="middle">Aug</text>
<text x="420.55" y="1334.8" font-size="18.3" text-anchor="middle">Sep</text>
<text x="457.94" y="1334.8" font-size="18.3" text-anchor="middle">Oct</text>
<text x="499.72" y="1334.8" font-size="18.3" text-anchor="middle">Nov</text>
<text x="542" y="1334.8" font-size="18.3" text-anchor="middle">Dec</text>
<text x="-0.6" y="1158.6" font-size="29.5" font-weight="bold">I</text>
<text transform="translate(19,1241.7) rotate(-90)" font-size="26.9" text-anchor="middle">Depth (m)</text>
<text x="579.4" y="1118.8" font-size="24" font-style="italic" text-anchor="middle">NH<tspan font-size="15.5" dy="5.3">4</tspan></text>
<text x="579.2" y="1147.9" font-size="24" text-anchor="middle">(µmol N L<tspan font-size="16" dy="-7.2" dx="0.3">−1</tspan><tspan dy="7.2" dx="0.4">)</tspan></text>
<rect x="573.1" y="1166.4" width="15.3" height="76.3" fill="#FFFF00"/>
<rect x="573.1" y="1242.4" width="15.3" height="38.15" fill="#00FF4A"/>
<rect x="573.1" y="1280.25" width="15.3" height="19.83" fill="#00E6FF"/>
<rect x="573.1" y="1299.77" width="15.3" height="9.46" fill="#004CFF"/>
<rect x="573.1" y="1308.93" width="15.3" height="10.27" fill="#4C00FF"/>
<line x1="573.1" y1="1242.4" x2="591.9" y2="1242.4" stroke="#000" stroke-opacity="0.6" stroke-width="0.9"/>
<line x1="573.1" y1="1280.25" x2="591.9" y2="1280.25" stroke="#000" stroke-opacity="0.6" stroke-width="0.9"/>
<line x1="573.1" y1="1299.77" x2="591.9" y2="1299.77" stroke="#000" stroke-opacity="0.6" stroke-width="0.9"/>
<line x1="573.1" y1="1308.93" x2="591.9" y2="1308.93" stroke="#000" stroke-opacity="0.6" stroke-width="0.9"/>
<rect x="573.6" y="1166.9" width="14.3" height="151.5" fill="none" stroke="#000" stroke-opacity="0.38" stroke-width="1"/>
<line x1="588.4" y1="1166.9" x2="591.9" y2="1166.9" stroke="#000" stroke-opacity="0.45" stroke-width="1"/>
<line x1="588.4" y1="1318.4" x2="591.9" y2="1318.4" stroke="#000" stroke-opacity="0.45" stroke-width="1"/>
<text x="601.4" y="1172.7" font-size="16" text-anchor="start">0.08</text>
<text x="601.4" y="1248.5" font-size="16" text-anchor="start">0.04</text>
<text x="601.4" y="1286.55" font-size="16" text-anchor="start">0.02</text>
<text x="601.4" y="1305.47" font-size="16" text-anchor="start">0.01</text>
<text x="601.4" y="1326.2" font-size="16" text-anchor="start">0.00</text>
<line x1="588.4" y1="1308.93" x2="628.4" y2="1308.93" stroke="#000" stroke-opacity="0.7" stroke-width="0.8"/>
<text x="632.9" y="1315.33" font-size="16" text-anchor="start">0.05</text>
<clipPath id="clipJ"><rect x="765.1" y="1168" width="495.7" height="151.9"/></clipPath>
<g clip-path="url(#clipJ)">
<polygon fill="#004CFF" points="760,1160 1265,1160 1265,1325 760,1325"/>
<polygon fill="#00E6FF" points="760,1325 760,1242.04 765.86,1242.04 778.32,1245.33 778.32,1260.9 791.14,1264.56 791.14,1268.59 803.59,1272.26 816.23,1268.59 816.23,1295.7 829.05,1299.36 841.5,1295.7 841.5,1253.58 854.32,1256.87 867.14,1253.21 867.14,1245.33 879.6,1241.67 879.6,1226.1 892.23,1222.44 892.23,1230.13 905.05,1233.43 905.05,1241.67 917.51,1245.33 930.33,1241.3 943.15,1237.64 943.15,1214.75 955.6,1218.41 955.6,1226.1 967.88,1229.77 980.7,1229.77 992.6,1233.43 1005.42,1237.64 1006.79,1237.71 1032.03,1237.71 1044.65,1241.21 1057.27,1237.71 1057.27,1257.13 1069.89,1261.01 1083.09,1257.13 1083.09,1233.83 1108.72,1233.83 1121.34,1229.95 1133.95,1229.95 1146.57,1226.07 1159.19,1222.18 1170.84,1225.68 1184.43,1225.68 1197.05,1222.18 1209.67,1222.18 1222.29,1218.3 1222.29,1214.03 1234.91,1210.15 1247.52,1206.65 1260.14,1202.77 1271.79,1198.89 1265,1325"/>
</g>
<rect x="765.6" y="1168.5" width="494.7" height="150.9" fill="none" stroke="#000" stroke-opacity="0.38" stroke-width="1"/>
<line x1="762.1" y1="1168.5" x2="765.1" y2="1168.5" stroke="#000" stroke-opacity="0.45" stroke-width="1"/>
<text x="754" y="1174.4" font-size="16.5" text-anchor="end">0</text>
<line x1="762.1" y1="1198.68" x2="765.1" y2="1198.68" stroke="#000" stroke-opacity="0.45" stroke-width="1"/>
<text x="754" y="1204.58" font-size="16.5" text-anchor="end">20</text>
<line x1="762.1" y1="1228.86" x2="765.1" y2="1228.86" stroke="#000" stroke-opacity="0.45" stroke-width="1"/>
<text x="754" y="1234.76" font-size="16.5" text-anchor="end">40</text>
<line x1="762.1" y1="1259.04" x2="765.1" y2="1259.04" stroke="#000" stroke-opacity="0.45" stroke-width="1"/>
<text x="754" y="1264.94" font-size="16.5" text-anchor="end">60</text>
<line x1="762.1" y1="1289.22" x2="765.1" y2="1289.22" stroke="#000" stroke-opacity="0.45" stroke-width="1"/>
<text x="754" y="1295.12" font-size="16.5" text-anchor="end">80</text>
<line x1="762.1" y1="1319.4" x2="765.1" y2="1319.4" stroke="#000" stroke-opacity="0.45" stroke-width="1"/>
<text x="754" y="1325.3" font-size="16.5" text-anchor="end">100</text>
<line x1="765.6" y1="1319.9" x2="765.6" y2="1322.9" stroke="#000" stroke-opacity="0.45" stroke-width="1"/>
<line x1="806.94" y1="1319.9" x2="806.94" y2="1322.9" stroke="#000" stroke-opacity="0.45" stroke-width="1"/>
<line x1="848.28" y1="1319.9" x2="848.28" y2="1322.9" stroke="#000" stroke-opacity="0.45" stroke-width="1"/>
<line x1="889.62" y1="1319.9" x2="889.62" y2="1322.9" stroke="#000" stroke-opacity="0.45" stroke-width="1"/>
<line x1="930.95" y1="1319.9" x2="930.95" y2="1322.9" stroke="#000" stroke-opacity="0.45" stroke-width="1"/>
<line x1="972.29" y1="1319.9" x2="972.29" y2="1322.9" stroke="#000" stroke-opacity="0.45" stroke-width="1"/>
<line x1="1013.63" y1="1319.9" x2="1013.63" y2="1322.9" stroke="#000" stroke-opacity="0.45" stroke-width="1"/>
<line x1="1054.97" y1="1319.9" x2="1054.97" y2="1322.9" stroke="#000" stroke-opacity="0.45" stroke-width="1"/>
<line x1="1096.31" y1="1319.9" x2="1096.31" y2="1322.9" stroke="#000" stroke-opacity="0.45" stroke-width="1"/>
<line x1="1137.65" y1="1319.9" x2="1137.65" y2="1322.9" stroke="#000" stroke-opacity="0.45" stroke-width="1"/>
<line x1="1178.99" y1="1319.9" x2="1178.99" y2="1322.9" stroke="#000" stroke-opacity="0.45" stroke-width="1"/>
<line x1="1220.33" y1="1319.9" x2="1220.33" y2="1322.9" stroke="#000" stroke-opacity="0.45" stroke-width="1"/>
<text x="786.9" y="1337" font-size="18.3" text-anchor="middle">Jan</text>
<text x="828.63" y="1337" font-size="18.3" text-anchor="middle">Feb</text>
<text x="867.15" y="1337" font-size="18.3" text-anchor="middle">Mar</text>
<text x="909.58" y="1337" font-size="18.3" text-anchor="middle">Apr</text>
<text x="950.51" y="1337" font-size="18.3" text-anchor="middle">May</text>
<text x="991.83" y="1337" font-size="18.3" text-anchor="middle">Jun</text>
<text x="1031.66" y="1337" font-size="18.3" text-anchor="middle">Jul</text>
<text x="1075.79" y="1337" font-size="18.3" text-anchor="middle">Aug</text>
<text x="1115.72" y="1337" font-size="18.3" text-anchor="middle">Sep</text>
<text x="1153.34" y="1337" font-size="18.3" text-anchor="middle">Oct</text>
<text x="1195.37" y="1337" font-size="18.3" text-anchor="middle">Nov</text>
<text x="1237.9" y="1337" font-size="18.3" text-anchor="middle">Dec</text>
<text x="678.6" y="1158.6" font-size="29.5" font-weight="bold">J</text>
<text transform="translate(719.1,1244.5) rotate(-90)" font-size="26.9" text-anchor="middle">Depth (m)</text>
<text x="1277.5" y="1118.8" font-size="24" font-style="italic" text-anchor="middle">NH<tspan font-size="15.5" dy="5.3">4</tspan></text>
<text x="1277" y="1147.9" font-size="24" text-anchor="middle">(µmol N L<tspan font-size="16" dy="-7.2" dx="0.3">−1</tspan><tspan dy="7.2" dx="0.4">)</tspan></text>
<rect x="1274.8" y="1168" width="15.3" height="76" fill="#FFFF00"/>
<rect x="1274.8" y="1243.7" width="15.3" height="38" fill="#00FF4A"/>
<rect x="1274.8" y="1281.4" width="15.3" height="19.75" fill="#00E6FF"/>
<rect x="1274.8" y="1300.85" width="15.3" height="9.42" fill="#004CFF"/>
<rect x="1274.8" y="1309.97" width="15.3" height="10.23" fill="#4C00FF"/>
<line x1="1274.8" y1="1243.7" x2="1293.6" y2="1243.7" stroke="#000" stroke-opacity="0.6" stroke-width="0.9"/>
<line x1="1274.8" y1="1281.4" x2="1293.6" y2="1281.4" stroke="#000" stroke-opacity="0.6" stroke-width="0.9"/>
<line x1="1274.8" y1="1300.85" x2="1293.6" y2="1300.85" stroke="#000" stroke-opacity="0.6" stroke-width="0.9"/>
<line x1="1274.8" y1="1309.97" x2="1293.6" y2="1309.97" stroke="#000" stroke-opacity="0.6" stroke-width="0.9"/>
<rect x="1275.3" y="1168.5" width="14.3" height="150.9" fill="none" stroke="#000" stroke-opacity="0.38" stroke-width="1"/>
<line x1="1290.1" y1="1168.5" x2="1293.6" y2="1168.5" stroke="#000" stroke-opacity="0.45" stroke-width="1"/>
<line x1="1290.1" y1="1319.4" x2="1293.6" y2="1319.4" stroke="#000" stroke-opacity="0.45" stroke-width="1"/>
<text x="1297.5" y="1175.8" font-size="16" text-anchor="start">0.08</text>
<text x="1297.5" y="1252.4" font-size="16" text-anchor="start">0.04</text>
<text x="1297.5" y="1290.8" font-size="16" text-anchor="start">0.02</text>
<text x="1297.5" y="1308.85" font-size="16" text-anchor="start">0.01</text>
<text x="1297.5" y="1330" font-size="16" text-anchor="start">0.00</text>
<line x1="1290.1" y1="1309.97" x2="1324.4" y2="1310.37" stroke="#000" stroke-opacity="0.7" stroke-width="0.8"/>
<text x="1328.4" y="1317.27" font-size="16" text-anchor="start">0.05</text>
</svg>
</body></html>
